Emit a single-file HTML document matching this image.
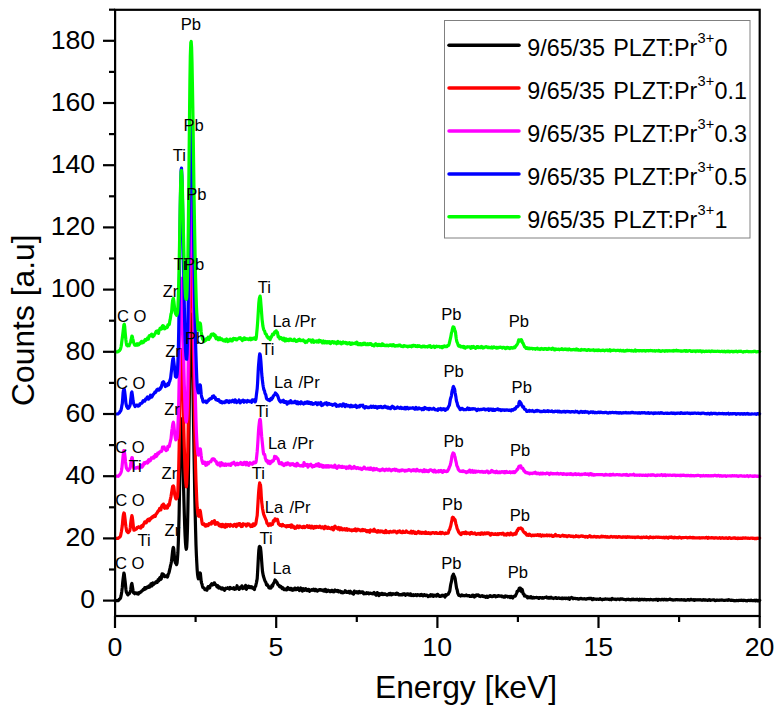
<!DOCTYPE html>
<html><head><meta charset="utf-8"><style>
html,body{margin:0;padding:0;background:#fff;}
body{width:781px;height:716px;overflow:hidden;font-family:"Liberation Sans",sans-serif;}
svg{display:block;}
text{font-family:"Liberation Sans",sans-serif;}
</style></head><body>
<svg width="781" height="716" viewBox="0 0 781 716">
<rect width="781" height="716" fill="#fff"/>
<g font-size="16.6" fill="#000">
</g>
<g fill="none" stroke-width="3.2" stroke-linejoin="round" stroke-linecap="round">
<path stroke="#000000" d="M115.0,600.6L115.4,600.6L115.8,600.6L116.2,600.6L116.6,600.6L117.0,600.6L117.4,600.6L117.8,600.6L118.2,600.6L118.6,600.4L119.0,599.6L119.4,599.3L119.8,598.9L120.2,598.6L120.6,597.8L121.0,596.2L121.4,593.9L121.8,591.4L122.3,587.4L122.7,582.5L123.1,579.0L123.5,575.9L123.9,573.1L124.3,574.3L124.7,577.9L125.1,581.1L125.5,585.0L125.9,589.2L126.3,591.9L126.7,592.8L127.1,593.4L127.5,594.4L127.9,594.8L128.3,594.3L128.7,594.0L129.1,594.0L129.5,593.3L129.9,592.4L130.3,591.7L130.7,590.0L131.1,586.8L131.5,584.2L131.9,583.4L132.3,585.8L132.7,588.2L133.1,590.8L133.5,592.8L133.9,593.0L134.3,593.3L134.7,593.7L135.1,592.9L135.5,592.8L136.0,593.0L136.4,593.0L136.8,593.1L137.2,593.8L137.6,593.1L138.0,593.1L138.4,594.0L138.8,593.3L139.2,592.8L139.6,592.3L140.0,592.5L140.4,592.1L140.8,591.8L141.2,591.9L141.6,591.1L142.0,590.8L142.4,590.5L142.8,590.4L143.2,589.5L143.6,589.3L144.0,589.5L144.4,588.7L144.8,587.7L145.2,587.7L145.6,589.0L146.0,587.9L146.4,587.5L146.8,587.9L147.2,587.9L147.6,586.9L148.0,587.5L148.4,586.4L148.8,585.9L149.2,587.3L149.7,587.1L150.1,586.9L150.5,585.5L150.9,583.8L151.3,583.8L151.7,586.0L152.1,585.6L152.5,583.8L152.9,582.9L153.3,583.6L153.7,584.3L154.1,583.5L154.5,583.2L154.9,583.3L155.3,583.2L155.7,582.1L156.1,581.7L156.5,581.8L156.9,581.9L157.3,582.3L157.7,581.2L158.1,579.7L158.5,580.4L158.9,580.7L159.3,578.8L159.7,578.0L160.1,577.4L160.5,578.4L160.9,579.3L161.3,578.8L161.7,575.7L162.1,573.8L162.5,575.1L162.9,575.0L163.4,574.3L163.8,575.5L164.2,576.3L164.6,576.7L165.0,576.5L165.4,576.1L165.8,576.4L166.2,576.0L166.6,576.2L167.0,576.1L167.4,577.1L167.8,576.2L168.2,574.1L168.6,573.7L169.0,572.5L169.4,571.0L169.8,569.1L170.2,567.4L170.6,565.4L171.0,563.9L171.4,561.8L171.8,558.6L172.2,554.8L172.6,551.3L173.0,548.4L173.4,547.4L173.8,549.2L174.2,553.8L174.6,559.0L175.0,561.4L175.4,562.8L175.8,563.3L176.2,563.9L176.6,564.6L177.1,562.8L177.5,558.1L177.9,552.7L178.3,543.3L178.7,530.5L179.1,514.8L179.5,493.2L179.9,469.4L180.3,447.0L180.7,429.5L181.1,419.9L181.5,418.8L181.9,425.0L182.3,435.5L182.7,450.3L183.1,466.8L183.5,483.9L183.9,499.4L184.3,513.6L184.7,526.1L185.1,535.9L185.5,543.2L185.9,547.6L186.3,549.3L186.7,547.1L187.1,539.9L187.5,527.6L187.9,509.3L188.3,485.1L188.7,453.4L189.1,419.4L189.5,384.4L189.9,352.3L190.3,328.2L190.8,314.9L191.2,314.1L191.6,321.3L192.0,334.3L192.4,352.0L192.8,375.8L193.2,401.9L193.6,427.4L194.0,452.5L194.4,474.4L194.8,496.6L195.2,514.5L195.6,530.5L196.0,545.1L196.4,555.1L196.8,563.0L197.2,570.1L197.6,574.8L198.0,577.3L198.4,578.8L198.8,578.2L199.2,576.1L199.6,573.6L200.0,572.9L200.4,573.5L200.8,577.3L201.2,581.4L201.6,583.2L202.0,584.1L202.4,585.8L202.8,587.3L203.2,587.3L203.6,588.0L204.0,588.1L204.5,588.6L204.9,589.7L205.3,588.9L205.7,589.2L206.1,589.5L206.5,590.0L206.9,590.2L207.3,589.2L207.7,587.5L208.1,586.7L208.5,587.1L208.9,586.7L209.3,587.4L209.7,588.0L210.1,586.3L210.5,585.3L210.9,585.2L211.3,584.3L211.7,583.8L212.1,584.7L212.5,585.0L212.9,584.1L213.3,583.8L213.7,583.8L214.1,582.9L214.5,582.9L214.9,584.5L215.3,584.6L215.7,584.6L216.1,585.1L216.5,585.7L216.9,586.8L217.3,586.3L217.7,585.7L218.2,586.8L218.6,588.0L219.0,587.4L219.4,587.0L219.8,587.8L220.2,588.2L220.6,587.7L221.0,588.8L221.4,588.4L221.8,588.7L222.2,589.1L222.6,588.0L223.0,588.4L223.4,589.2L223.8,588.7L224.2,589.3L224.6,590.3L225.0,589.6L225.4,588.6L225.8,588.2L226.2,588.4L226.6,588.5L227.0,588.3L227.4,588.4L227.8,587.8L228.2,588.1L228.6,588.2L229.0,588.3L229.4,589.2L229.8,588.8L230.2,587.5L230.6,587.9L231.0,588.4L231.4,588.3L231.9,588.5L232.3,588.4L232.7,588.6L233.1,588.6L233.5,588.9L233.9,587.7L234.3,588.6L234.7,589.4L235.1,588.7L235.5,588.4L235.9,588.3L236.3,588.7L236.7,587.2L237.1,585.7L237.5,588.0L237.9,588.1L238.3,588.1L238.7,588.3L239.1,589.4L239.5,589.0L239.9,587.8L240.3,587.4L240.7,586.9L241.1,587.9L241.5,587.2L241.9,585.9L242.3,587.8L242.7,588.6L243.1,588.0L243.5,587.6L243.9,587.1L244.3,587.6L244.7,588.1L245.1,587.0L245.6,585.4L246.0,586.7L246.4,589.3L246.8,588.5L247.2,588.0L247.6,587.4L248.0,587.1L248.4,586.1L248.8,586.3L249.2,586.8L249.6,587.4L250.0,587.7L250.4,587.3L250.8,586.7L251.2,587.2L251.6,587.7L252.0,587.0L252.4,587.5L252.8,588.1L253.2,588.6L253.6,588.6L254.0,589.1L254.4,589.6L254.8,587.4L255.2,586.6L255.6,586.3L256.0,584.5L256.4,582.8L256.8,580.9L257.2,578.5L257.6,572.1L258.0,564.6L258.4,556.9L258.8,550.5L259.3,546.7L259.7,546.4L260.1,547.0L260.5,547.6L260.9,551.1L261.3,555.9L261.7,561.6L262.1,566.8L262.5,571.4L262.9,573.6L263.3,575.8L263.7,577.1L264.1,578.2L264.5,579.7L264.9,580.6L265.3,581.5L265.7,582.0L266.1,583.1L266.5,584.8L266.9,585.2L267.3,584.6L267.7,585.6L268.1,585.9L268.5,586.6L268.9,587.7L269.3,588.0L269.7,587.5L270.1,587.1L270.5,587.1L270.9,588.0L271.3,587.5L271.7,586.1L272.1,585.1L272.5,586.3L273.0,584.7L273.4,583.7L273.8,582.8L274.2,582.4L274.6,581.2L275.0,580.0L275.4,580.5L275.8,580.9L276.2,581.5L276.6,582.4L277.0,582.4L277.4,583.4L277.8,584.6L278.2,584.8L278.6,585.2L279.0,585.3L279.4,586.3L279.8,586.9L280.2,586.1L280.6,586.2L281.0,586.5L281.4,587.3L281.8,588.2L282.2,588.6L282.6,588.4L283.0,587.8L283.4,588.5L283.8,589.5L284.2,589.2L284.6,589.5L285.0,589.1L285.4,589.7L285.8,589.8L286.2,588.9L286.7,589.1L287.1,589.7L287.5,588.1L287.9,587.5L288.3,588.9L288.7,588.1L289.1,589.0L289.5,589.4L289.9,589.5L290.3,589.6L290.7,588.3L291.1,588.5L291.5,589.4L291.9,589.7L292.3,590.2L292.7,589.4L293.1,588.9L293.5,590.1L293.9,589.8L294.3,588.9L294.7,588.2L295.1,588.2L295.5,589.4L295.9,589.7L296.3,589.2L296.7,589.5L297.1,589.4L297.5,588.3L297.9,588.0L298.3,588.9L298.7,589.4L299.1,589.5L299.5,590.6L299.9,590.1L300.4,589.7L300.8,588.0L301.2,588.5L301.6,589.3L302.0,590.2L302.4,591.1L302.8,589.3L303.2,588.6L303.6,589.6L304.0,589.2L304.4,589.4L304.8,590.3L305.2,589.1L305.6,588.6L306.0,589.3L306.4,589.5L306.8,589.6L307.2,590.6L307.6,589.8L308.0,589.4L308.4,590.2L308.8,589.5L309.2,590.3L309.6,591.3L310.0,590.6L310.4,590.4L310.8,590.1L311.2,590.4L311.6,589.6L312.0,590.1L312.4,590.0L312.8,590.3L313.2,590.0L313.6,589.2L314.1,589.7L314.5,590.5L314.9,590.7L315.3,589.4L315.7,589.4L316.1,590.1L316.5,590.2L316.9,590.9L317.3,591.1L317.7,590.8L318.1,590.0L318.5,590.1L318.9,590.4L319.3,589.7L319.7,589.5L320.1,589.7L320.5,589.6L320.9,590.3L321.3,590.3L321.7,590.0L322.1,590.1L322.5,590.1L322.9,590.7L323.3,589.9L323.7,590.7L324.1,591.0L324.5,591.2L324.9,590.2L325.3,589.4L325.7,589.5L326.1,590.2L326.5,591.6L326.9,591.5L327.3,591.3L327.8,591.1L328.2,590.2L328.6,590.4L329.0,590.6L329.4,590.7L329.8,591.5L330.2,591.7L330.6,591.5L331.0,590.7L331.4,590.5L331.8,590.3L332.2,590.4L332.6,591.7L333.0,591.6L333.4,591.3L333.8,591.9L334.2,591.5L334.6,590.4L335.0,590.0L335.4,590.3L335.8,591.0L336.2,591.1L336.6,590.7L337.0,591.2L337.4,590.9L337.8,590.5L338.2,591.4L338.6,591.8L339.0,591.4L339.4,591.0L339.8,591.0L340.2,591.2L340.6,591.5L341.0,592.5L341.5,592.3L341.9,591.8L342.3,592.4L342.7,592.8L343.1,592.8L343.5,592.5L343.9,592.2L344.3,592.3L344.7,591.5L345.1,590.8L345.5,591.3L345.9,591.1L346.3,591.7L346.7,592.5L347.1,592.5L347.5,592.4L347.9,591.9L348.3,592.3L348.7,591.4L349.1,591.9L349.5,593.0L349.9,591.7L350.3,591.2L350.7,592.1L351.1,592.1L351.5,593.0L351.9,592.7L352.3,593.1L352.7,592.7L353.1,593.7L353.5,594.1L353.9,592.2L354.3,591.1L354.7,592.2L355.2,592.1L355.6,592.3L356.0,592.5L356.4,591.9L356.8,591.7L357.2,592.8L357.6,592.4L358.0,592.6L358.4,593.1L358.8,591.7L359.2,591.5L359.6,592.6L360.0,592.0L360.4,592.4L360.8,592.6L361.2,592.0L361.6,592.4L362.0,592.4L362.4,591.8L362.8,591.8L363.2,592.5L363.6,593.9L364.0,593.9L364.4,592.9L364.8,593.3L365.2,593.4L365.6,593.7L366.0,593.6L366.4,593.6L366.8,592.7L367.2,593.5L367.6,593.5L368.0,593.2L368.4,592.9L368.9,593.8L369.3,593.6L369.7,593.4L370.1,593.1L370.5,593.1L370.9,593.5L371.3,593.5L371.7,593.6L372.1,593.3L372.5,593.6L372.9,593.9L373.3,593.6L373.7,593.0L374.1,592.5L374.5,593.5L374.9,593.4L375.3,593.3L375.7,594.8L376.1,595.2L376.5,594.7L376.9,593.7L377.3,592.6L377.7,593.0L378.1,593.2L378.5,594.2L378.9,595.6L379.3,595.4L379.7,593.8L380.1,594.0L380.5,594.5L380.9,593.9L381.3,594.4L381.7,593.5L382.1,593.3L382.6,594.4L383.0,594.6L383.4,594.0L383.8,594.4L384.2,594.1L384.6,594.4L385.0,593.9L385.4,594.0L385.8,594.5L386.2,594.6L386.6,594.5L387.0,595.1L387.4,594.7L387.8,594.3L388.2,594.2L388.6,594.5L389.0,593.7L389.4,594.3L389.8,594.6L390.2,593.5L390.6,593.3L391.0,594.3L391.4,594.8L391.8,594.6L392.2,594.7L392.6,594.3L393.0,593.6L393.4,593.9L393.8,594.2L394.2,594.2L394.6,594.2L395.0,593.9L395.4,593.9L395.8,594.4L396.3,594.0L396.7,593.2L397.1,593.9L397.5,594.1L397.9,593.5L398.3,594.3L398.7,594.9L399.1,594.5L399.5,594.9L399.9,594.8L400.3,594.5L400.7,594.7L401.1,595.0L401.5,595.0L401.9,594.8L402.3,594.2L402.7,594.8L403.1,594.7L403.5,593.8L403.9,594.3L404.3,593.8L404.7,593.8L405.1,594.7L405.5,595.3L405.9,594.6L406.3,594.1L406.7,594.1L407.1,594.3L407.5,593.9L407.9,594.0L408.3,594.8L408.7,594.2L409.1,594.5L409.5,595.1L410.0,594.7L410.4,593.8L410.8,594.3L411.2,595.5L411.6,595.1L412.0,594.9L412.4,595.0L412.8,595.3L413.2,595.5L413.6,594.8L414.0,595.2L414.4,595.3L414.8,595.4L415.2,595.2L415.6,594.6L416.0,594.7L416.4,595.3L416.8,595.6L417.2,595.2L417.6,594.6L418.0,594.7L418.4,594.9L418.8,595.2L419.2,595.2L419.6,595.3L420.0,595.6L420.4,594.7L420.8,595.3L421.2,595.3L421.6,594.5L422.0,594.8L422.4,595.2L422.8,595.6L423.2,595.9L423.7,595.1L424.1,594.7L424.5,595.2L424.9,594.9L425.3,595.6L425.7,595.6L426.1,595.1L426.5,595.1L426.9,595.0L427.3,595.6L427.7,596.1L428.1,596.5L428.5,596.3L428.9,596.2L429.3,596.1L429.7,595.5L430.1,595.9L430.5,596.0L430.9,594.7L431.3,595.6L431.7,595.9L432.1,594.9L432.5,594.9L432.9,596.0L433.3,596.4L433.7,595.9L434.1,595.1L434.5,595.6L434.9,595.9L435.3,595.4L435.7,595.2L436.1,596.0L436.5,596.1L436.9,595.9L437.4,594.5L437.8,594.3L438.2,594.9L438.6,595.4L439.0,595.6L439.4,596.4L439.8,596.0L440.2,596.4L440.6,596.5L441.0,596.2L441.4,595.8L441.8,595.3L442.2,595.2L442.6,595.6L443.0,595.9L443.4,595.5L443.8,595.4L444.2,595.3L444.6,596.3L445.0,597.0L445.4,595.9L445.8,594.6L446.2,595.0L446.6,595.3L447.0,594.8L447.4,594.6L447.8,594.4L448.2,594.3L448.6,593.4L449.0,592.5L449.4,591.9L449.8,590.7L450.2,588.1L450.6,585.3L451.0,583.3L451.5,581.4L451.9,578.9L452.3,576.2L452.7,575.9L453.1,574.8L453.5,574.1L453.9,575.6L454.3,576.6L454.7,577.1L455.1,578.5L455.5,581.3L455.9,583.8L456.3,586.4L456.7,588.7L457.1,589.5L457.5,591.6L457.9,593.6L458.3,594.1L458.7,595.2L459.1,595.5L459.5,595.4L459.9,595.6L460.3,595.4L460.7,596.0L461.1,595.7L461.5,595.2L461.9,594.9L462.3,595.1L462.7,595.5L463.1,595.7L463.5,595.6L463.9,595.4L464.3,595.8L464.7,595.7L465.2,595.7L465.6,595.7L466.0,595.6L466.4,595.0L466.8,595.7L467.2,595.8L467.6,595.6L468.0,595.5L468.4,595.5L468.8,595.5L469.2,595.6L469.6,596.4L470.0,596.2L470.4,596.4L470.8,596.1L471.2,596.5L471.6,596.5L472.0,595.9L472.4,595.2L472.8,595.4L473.2,595.5L473.6,595.4L474.0,596.4L474.4,597.0L474.8,596.5L475.2,596.0L475.6,595.2L476.0,595.1L476.4,595.9L476.8,594.9L477.2,594.9L477.6,595.4L478.0,595.4L478.4,594.9L478.9,595.7L479.3,596.2L479.7,596.2L480.1,596.5L480.5,596.0L480.9,596.0L481.3,595.9L481.7,596.0L482.1,596.3L482.5,595.8L482.9,596.2L483.3,596.1L483.7,596.6L484.1,596.3L484.5,596.4L484.9,596.3L485.3,596.7L485.7,597.3L486.1,596.9L486.5,596.2L486.9,596.1L487.3,597.0L487.7,597.4L488.1,596.9L488.5,596.5L488.9,596.6L489.3,596.5L489.7,595.8L490.1,595.6L490.5,595.9L490.9,596.5L491.3,596.4L491.7,596.5L492.1,596.7L492.6,596.1L493.0,596.2L493.4,596.3L493.8,595.7L494.2,595.7L494.6,595.7L495.0,595.6L495.4,596.0L495.8,596.8L496.2,596.5L496.6,596.1L497.0,596.5L497.4,596.4L497.8,596.0L498.2,595.6L498.6,595.5L499.0,595.9L499.4,596.2L499.8,596.0L500.2,596.1L500.6,596.2L501.0,595.8L501.4,596.1L501.8,596.5L502.2,596.1L502.6,596.3L503.0,596.5L503.4,597.0L503.8,596.8L504.2,597.0L504.6,597.2L505.0,597.1L505.4,595.9L505.8,596.3L506.3,596.3L506.7,596.1L507.1,596.4L507.5,596.5L507.9,597.0L508.3,596.7L508.7,596.6L509.1,596.4L509.5,596.6L509.9,597.3L510.3,597.6L510.7,597.1L511.1,596.4L511.5,596.3L511.9,596.7L512.3,597.7L512.7,598.0L513.1,597.2L513.5,596.7L513.9,596.6L514.3,596.1L514.7,596.1L515.1,596.2L515.5,595.7L515.9,594.7L516.3,594.0L516.7,593.0L517.1,591.4L517.5,591.5L517.9,591.2L518.3,590.9L518.7,589.9L519.1,588.6L519.5,588.1L520.0,588.2L520.4,588.1L520.8,588.8L521.2,590.9L521.6,591.6L522.0,589.3L522.4,590.1L522.8,592.1L523.2,593.9L523.6,594.2L524.0,594.2L524.4,596.0L524.8,595.9L525.2,595.6L525.6,596.0L526.0,596.3L526.4,596.5L526.8,596.3L527.2,597.4L527.6,597.8L528.0,597.2L528.4,596.8L528.8,597.1L529.2,597.1L529.6,597.7L530.0,597.8L530.4,597.0L530.8,596.6L531.2,596.9L531.6,597.6L532.0,598.1L532.4,598.1L532.8,597.7L533.2,597.3L533.7,597.5L534.1,598.0L534.5,597.7L534.9,597.6L535.3,597.6L535.7,597.6L536.1,597.6L536.5,597.4L536.9,597.5L537.3,597.6L537.7,597.8L538.1,597.6L538.5,597.9L538.9,598.4L539.3,597.8L539.7,597.6L540.1,597.5L540.5,597.7L540.9,597.8L541.3,597.7L541.7,597.8L542.1,598.1L542.5,598.2L542.9,597.6L543.3,598.1L543.7,598.0L544.1,597.6L544.5,597.6L544.9,597.5L545.3,597.4L545.7,597.3L546.1,597.3L546.5,597.0L546.9,597.9L547.4,598.0L547.8,598.0L548.2,598.1L548.6,597.7L549.0,597.5L549.4,598.1L549.8,598.2L550.2,597.7L550.6,597.5L551.0,597.2L551.4,597.4L551.8,597.8L552.2,598.1L552.6,598.0L553.0,598.2L553.4,598.5L553.8,598.2L554.2,598.1L554.6,598.2L555.0,598.0L555.4,597.5L555.8,597.6L556.2,597.8L556.6,598.3L557.0,598.5L557.4,598.3L557.8,598.1L558.2,598.2L558.6,598.1L559.0,597.9L559.4,598.1L559.8,598.5L560.2,598.5L560.6,598.4L561.1,598.3L561.5,598.6L561.9,598.3L562.3,598.0L562.7,598.3L563.1,598.6L563.5,598.5L563.9,598.2L564.3,598.0L564.7,598.0L565.1,598.4L565.5,598.6L565.9,598.0L566.3,598.1L566.7,598.2L567.1,598.3L567.5,598.7L567.9,598.5L568.3,598.2L568.7,598.0L569.1,598.6L569.5,599.3L569.9,598.7L570.3,598.2L570.7,597.9L571.1,597.9L571.5,597.5L571.9,597.7L572.3,597.8L572.7,598.2L573.1,598.7L573.5,598.3L573.9,598.3L574.3,598.5L574.8,598.3L575.2,598.4L575.6,598.6L576.0,598.6L576.4,598.6L576.8,598.5L577.2,598.6L577.6,598.6L578.0,599.1L578.4,599.0L578.8,599.1L579.2,598.8L579.6,598.5L580.0,598.6L580.4,598.6L580.8,598.5L581.2,598.3L581.6,598.7L582.0,598.7L582.4,599.0L582.8,598.9L583.2,598.8L583.6,598.9L584.0,598.7L584.4,598.6L584.8,599.0L585.2,598.9L585.6,599.0L586.0,599.3L586.4,599.0L586.8,598.9L587.2,598.6L587.6,598.7L588.0,598.5L588.5,598.6L588.9,598.3L589.3,598.5L589.7,598.6L590.1,598.5L590.5,598.4L590.9,598.3L591.3,598.3L591.7,598.9L592.1,599.5L592.5,599.7L592.9,599.2L593.3,598.7L593.7,598.7L594.1,598.9L594.5,599.1L594.9,599.1L595.3,599.0L595.7,599.0L596.1,599.3L596.5,599.1L596.9,599.3L597.3,599.2L597.7,599.2L598.1,599.2L598.5,599.4L598.9,599.4L599.3,599.3L599.7,599.1L600.1,598.6L600.5,599.0L600.9,599.3L601.3,599.3L601.7,599.6L602.2,599.8L602.6,599.3L603.0,599.2L603.4,599.4L603.8,599.3L604.2,599.4L604.6,599.2L605.0,599.0L605.4,598.9L605.8,599.0L606.2,599.2L606.6,599.0L607.0,599.2L607.4,599.0L607.8,599.0L608.2,599.3L608.6,599.4L609.0,599.2L609.4,599.5L609.8,599.6L610.2,599.4L610.6,599.1L611.0,599.3L611.4,599.7L611.8,599.1L612.2,598.5L612.6,598.7L613.0,599.2L613.4,599.2L613.8,599.0L614.2,599.0L614.6,599.3L615.0,599.4L615.4,599.1L615.9,599.2L616.3,599.6L616.7,599.4L617.1,599.2L617.5,599.2L617.9,599.1L618.3,599.0L618.7,599.1L619.1,599.4L619.5,599.6L619.9,599.2L620.3,598.8L620.7,598.8L621.1,599.2L621.5,599.2L621.9,598.9L622.3,598.9L622.7,599.1L623.1,599.2L623.5,599.4L623.9,599.4L624.3,599.5L624.7,599.5L625.1,599.5L625.5,599.7L625.9,599.9L626.3,599.7L626.7,599.4L627.1,599.4L627.5,599.5L627.9,599.3L628.3,599.2L628.7,599.3L629.1,599.6L629.6,599.5L630.0,599.6L630.4,599.8L630.8,599.9L631.2,599.7L631.6,599.5L632.0,599.1L632.4,599.4L632.8,599.6L633.2,599.5L633.6,599.2L634.0,599.6L634.4,599.7L634.8,599.7L635.2,599.6L635.6,599.5L636.0,599.4L636.4,599.7L636.8,599.5L637.2,599.2L637.6,599.5L638.0,599.7L638.4,599.9L638.8,600.1L639.2,599.7L639.6,599.3L640.0,599.7L640.4,599.9L640.8,599.6L641.2,599.4L641.6,599.3L642.0,599.3L642.4,599.5L642.8,599.6L643.3,599.8L643.7,599.4L644.1,599.4L644.5,599.3L644.9,599.3L645.3,599.6L645.7,599.7L646.1,599.9L646.5,600.0L646.9,599.7L647.3,599.6L647.7,599.7L648.1,599.5L648.5,599.5L648.9,599.5L649.3,599.8L649.7,599.9L650.1,599.5L650.5,599.4L650.9,599.6L651.3,599.7L651.7,599.7L652.1,599.7L652.5,599.8L652.9,600.0L653.3,599.7L653.7,599.9L654.1,599.8L654.5,599.7L654.9,599.7L655.3,599.8L655.7,599.4L656.1,599.4L656.5,599.3L657.0,599.4L657.4,599.9L657.8,600.3L658.2,599.7L658.6,599.3L659.0,599.3L659.4,599.7L659.8,599.7L660.2,599.7L660.6,600.0L661.0,599.9L661.4,599.7L661.8,599.4L662.2,599.6L662.6,599.4L663.0,599.6L663.4,599.8L663.8,599.4L664.2,599.6L664.6,599.5L665.0,599.3L665.4,599.7L665.8,599.9L666.2,599.5L666.6,599.7L667.0,600.0L667.4,600.0L667.8,599.7L668.2,599.5L668.6,599.6L669.0,599.5L669.4,599.2L669.8,599.2L670.2,599.2L670.7,599.5L671.1,599.8L671.5,599.5L671.9,599.6L672.3,599.8L672.7,600.0L673.1,600.1L673.5,600.0L673.9,599.9L674.3,600.0L674.7,600.0L675.1,599.9L675.5,599.7L675.9,599.8L676.3,599.7L676.7,599.5L677.1,599.7L677.5,599.7L677.9,599.9L678.3,599.8L678.7,599.7L679.1,599.8L679.5,599.9L679.9,600.0L680.3,599.9L680.7,599.8L681.1,599.6L681.5,599.6L681.9,599.9L682.3,599.8L682.7,599.8L683.1,599.8L683.5,600.0L683.9,600.1L684.4,599.7L684.8,599.8L685.2,600.2L685.6,600.3L686.0,600.1L686.4,600.1L686.8,600.0L687.2,599.7L687.6,599.6L688.0,599.8L688.4,599.6L688.8,599.6L689.2,600.0L689.6,600.2L690.0,599.8L690.4,599.6L690.8,599.3L691.2,599.4L691.6,599.6L692.0,599.6L692.4,600.0L692.8,600.0L693.2,599.8L693.6,599.6L694.0,599.9L694.4,600.4L694.8,599.9L695.2,600.0L695.6,599.9L696.0,600.0L696.4,599.9L696.8,599.8L697.2,599.9L697.6,600.0L698.1,599.7L698.5,599.8L698.9,599.9L699.3,599.9L699.7,599.9L700.1,599.6L700.5,599.8L700.9,599.9L701.3,600.0L701.7,600.2L702.1,600.3L702.5,600.0L702.9,599.8L703.3,599.7L703.7,599.9L704.1,600.2L704.5,599.9L704.9,599.8L705.3,599.8L705.7,600.0L706.1,600.2L706.5,600.0L706.9,600.1L707.3,600.1L707.7,600.3L708.1,600.1L708.5,600.1L708.9,599.8L709.3,599.6L709.7,599.8L710.1,600.3L710.5,600.4L710.9,600.3L711.3,600.0L711.8,600.0L712.2,600.0L712.6,600.0L713.0,599.9L713.4,599.9L713.8,599.8L714.2,600.0L714.6,600.2L715.0,600.6L715.4,600.6L715.8,600.4L716.2,600.4L716.6,600.1L717.0,600.0L717.4,600.2L717.8,600.3L718.2,600.3L718.6,600.2L719.0,600.3L719.4,600.1L719.8,600.1L720.2,600.1L720.6,600.0L721.0,600.1L721.4,600.1L721.8,599.9L722.2,600.1L722.6,600.1L723.0,600.2L723.4,600.3L723.8,600.4L724.2,600.4L724.6,600.3L725.0,600.4L725.5,600.3L725.9,600.1L726.3,600.1L726.7,600.0L727.1,600.1L727.5,600.1L727.9,600.3L728.3,600.1L728.7,599.7L729.1,599.9L729.5,600.0L729.9,600.1L730.3,600.2L730.7,600.5L731.1,600.5L731.5,600.2L731.9,600.2L732.3,600.4L732.7,600.4L733.1,600.4L733.5,600.5L733.9,600.7L734.3,600.7L734.7,600.6L735.1,600.8L735.5,600.7L735.9,600.6L736.3,600.6L736.7,600.4L737.1,600.5L737.5,600.5L737.9,600.6L738.3,600.6L738.7,600.3L739.2,600.3L739.6,600.5L740.0,600.4L740.4,600.4L740.8,600.3L741.2,600.1L741.6,600.4L742.0,600.3L742.4,600.3L742.8,600.5L743.2,600.6L743.6,600.4L744.0,600.3L744.4,600.4L744.8,600.4L745.2,600.5L745.6,600.6L746.0,600.6L746.4,600.8L746.8,600.7L747.2,600.8L747.6,600.6L748.0,600.4L748.4,600.5L748.8,600.5L749.2,600.4L749.6,600.5L750.0,600.6L750.4,600.5L750.8,600.2L751.2,600.2L751.6,600.4L752.0,600.6L752.4,600.5L752.9,600.7L753.3,600.6L753.7,600.6L754.1,600.3L754.5,600.6L754.9,600.3L755.3,600.4L755.7,600.8L756.1,600.6L756.5,600.2L756.9,600.3L757.3,600.8L757.7,600.8L758.1,600.8L758.5,600.8L758.9,600.6L759.3,600.2L759.7,600.4"/>
<path stroke="#ff0000" d="M115.0,538.4L115.4,538.4L115.8,538.4L116.2,538.4L116.6,538.4L117.0,538.4L117.4,538.4L117.8,538.4L118.2,538.4L118.6,537.8L119.0,537.5L119.4,537.2L119.8,537.2L120.2,536.5L120.6,535.6L121.0,533.6L121.4,531.5L121.8,528.9L122.3,525.6L122.7,521.0L123.1,516.8L123.5,514.3L123.9,513.0L124.3,513.3L124.7,516.0L125.1,519.5L125.5,523.3L125.9,526.5L126.3,528.7L126.7,531.0L127.1,531.4L127.5,532.1L127.9,532.6L128.3,532.7L128.7,532.1L129.1,531.6L129.5,531.0L129.9,530.1L130.3,527.5L130.7,523.1L131.1,520.0L131.5,517.5L131.9,515.6L132.3,517.2L132.7,520.2L133.1,523.9L133.5,527.7L133.9,530.2L134.3,530.0L134.7,529.6L135.1,529.7L135.5,529.2L136.0,528.8L136.4,529.1L136.8,528.1L137.2,527.4L137.6,527.5L138.0,527.5L138.4,527.2L138.8,526.8L139.2,527.6L139.6,527.6L140.0,527.2L140.4,527.9L140.8,528.1L141.2,527.2L141.6,525.8L142.0,525.5L142.4,526.6L142.8,526.6L143.2,525.2L143.6,524.3L144.0,523.7L144.4,522.6L144.8,521.8L145.2,522.0L145.6,522.0L146.0,522.9L146.4,522.7L146.8,521.2L147.2,520.2L147.6,519.7L148.0,519.5L148.4,519.1L148.8,519.4L149.2,520.8L149.7,520.1L150.1,518.5L150.5,518.4L150.9,519.0L151.3,517.6L151.7,517.8L152.1,517.6L152.5,516.7L152.9,516.5L153.3,517.1L153.7,515.7L154.1,515.6L154.5,515.9L154.9,515.8L155.3,516.4L155.7,515.1L156.1,513.8L156.5,513.8L156.9,513.3L157.3,512.6L157.7,511.7L158.1,510.8L158.5,511.0L158.9,510.8L159.3,509.5L159.7,508.4L160.1,509.4L160.5,509.6L160.9,509.8L161.3,507.6L161.7,506.3L162.1,505.2L162.5,505.3L162.9,505.3L163.4,504.1L163.8,504.8L164.2,507.1L164.6,508.3L165.0,507.7L165.4,507.2L165.8,506.2L166.2,507.7L166.6,508.0L167.0,507.6L167.4,508.1L167.8,506.8L168.2,504.6L168.6,505.0L169.0,505.4L169.4,504.7L169.8,502.1L170.2,500.0L170.6,498.4L171.0,496.6L171.4,494.0L171.8,491.5L172.2,489.1L172.6,486.4L173.0,486.2L173.4,485.9L173.8,486.8L174.2,489.9L174.6,493.9L175.0,495.9L175.4,497.2L175.8,498.6L176.2,498.9L176.6,498.5L177.1,497.8L177.5,496.1L177.9,490.0L178.3,480.2L178.7,467.8L179.1,449.5L179.5,427.5L179.9,403.7L180.3,380.6L180.7,361.6L181.1,350.8L181.5,349.6L181.9,356.1L182.3,366.8L182.7,381.3L183.1,398.2L183.5,416.0L183.9,432.7L184.3,447.4L184.7,460.6L185.1,471.7L185.5,478.8L185.9,483.8L186.3,486.9L186.7,483.6L187.1,474.5L187.5,463.9L187.9,446.3L188.3,419.2L188.7,386.0L189.1,351.1L189.5,315.2L189.9,283.1L190.3,258.3L190.8,244.0L191.2,242.9L191.6,250.2L192.0,263.6L192.4,283.2L192.8,307.6L193.2,333.3L193.6,359.8L194.0,385.7L194.4,408.6L194.8,430.8L195.2,450.9L195.6,468.1L196.0,481.2L196.4,490.9L196.8,500.9L197.2,507.5L197.6,512.2L198.0,514.6L198.4,515.9L198.8,516.2L199.2,514.2L199.6,511.5L200.0,510.3L200.4,511.5L200.8,514.5L201.2,517.2L201.6,519.6L202.0,522.3L202.4,524.2L202.8,524.3L203.2,524.5L203.6,524.2L204.0,523.8L204.5,525.0L204.9,525.6L205.3,526.2L205.7,526.1L206.1,525.8L206.5,524.7L206.9,525.4L207.3,525.6L207.7,524.6L208.1,525.6L208.5,524.5L208.9,523.7L209.3,523.8L209.7,524.1L210.1,523.8L210.5,523.2L210.9,522.8L211.3,524.0L211.7,522.8L212.1,521.7L212.5,522.3L212.9,522.9L213.3,522.2L213.7,521.9L214.1,520.9L214.5,520.7L214.9,522.5L215.3,524.3L215.7,524.1L216.1,524.2L216.5,523.3L216.9,522.8L217.3,523.4L217.7,522.8L218.2,523.2L218.6,524.4L219.0,525.6L219.4,525.7L219.8,526.0L220.2,524.9L220.6,524.8L221.0,524.4L221.4,525.4L221.8,526.7L222.2,525.4L222.6,524.4L223.0,524.5L223.4,526.2L223.8,526.6L224.2,526.2L224.6,526.9L225.0,527.2L225.4,526.2L225.8,524.4L226.2,525.8L226.6,526.7L227.0,526.2L227.4,525.5L227.8,524.5L228.2,524.5L228.6,524.8L229.0,525.3L229.4,525.6L229.8,526.3L230.2,526.2L230.6,524.5L231.0,525.0L231.4,524.9L231.9,525.4L232.3,525.5L232.7,525.8L233.1,526.3L233.5,525.6L233.9,524.8L234.3,524.4L234.7,524.4L235.1,524.3L235.5,524.7L235.9,525.5L236.3,526.7L236.7,525.6L237.1,524.1L237.5,524.4L237.9,524.5L238.3,525.2L238.7,525.1L239.1,523.6L239.5,523.9L239.9,523.7L240.3,524.3L240.7,525.5L241.1,526.5L241.5,525.7L241.9,526.5L242.3,526.5L242.7,524.3L243.1,523.8L243.5,524.1L243.9,524.6L244.3,524.6L244.7,524.4L245.1,524.5L245.6,524.4L246.0,524.7L246.4,526.0L246.8,524.7L247.2,524.6L247.6,523.9L248.0,523.8L248.4,524.8L248.8,524.2L249.2,524.2L249.6,525.3L250.0,525.4L250.4,525.5L250.8,526.6L251.2,525.8L251.6,525.1L252.0,525.7L252.4,526.4L252.8,525.4L253.2,523.8L253.6,523.8L254.0,525.0L254.4,525.5L254.8,524.9L255.2,524.5L255.6,524.3L256.0,522.8L256.4,520.1L256.8,517.7L257.2,515.5L257.6,508.8L258.0,502.3L258.4,495.7L258.8,490.2L259.3,485.2L259.7,482.8L260.1,484.8L260.5,485.0L260.9,489.4L261.3,496.5L261.7,502.0L262.1,504.9L262.5,508.5L262.9,510.4L263.3,512.7L263.7,514.5L264.1,515.3L264.5,516.5L264.9,517.3L265.3,518.2L265.7,519.3L266.1,519.9L266.5,521.2L266.9,523.3L267.3,523.5L267.7,523.7L268.1,524.6L268.5,525.6L268.9,525.2L269.3,524.5L269.7,524.1L270.1,523.7L270.5,524.8L270.9,525.1L271.3,524.8L271.7,524.4L272.1,524.4L272.5,524.4L273.0,522.3L273.4,520.6L273.8,520.4L274.2,521.3L274.6,520.3L275.0,518.8L275.4,519.6L275.8,519.9L276.2,520.1L276.6,519.7L277.0,519.4L277.4,519.3L277.8,520.9L278.2,522.4L278.6,524.0L279.0,524.3L279.4,524.7L279.8,525.1L280.2,525.4L280.6,524.6L281.0,525.5L281.4,525.6L281.8,526.1L282.2,525.2L282.6,524.5L283.0,525.7L283.4,525.6L283.8,525.6L284.2,525.5L284.6,525.6L285.0,526.2L285.4,526.2L285.8,526.5L286.2,526.9L286.7,526.7L287.1,525.7L287.5,526.1L287.9,525.6L288.3,525.7L288.7,526.4L289.1,525.8L289.5,526.3L289.9,525.5L290.3,525.2L290.7,526.5L291.1,527.2L291.5,526.5L291.9,525.0L292.3,526.3L292.7,527.0L293.1,526.1L293.5,526.3L293.9,526.7L294.3,527.6L294.7,528.3L295.1,527.7L295.5,527.7L295.9,528.1L296.3,527.8L296.7,527.3L297.1,526.1L297.5,525.8L297.9,526.2L298.3,527.2L298.7,527.6L299.1,526.7L299.5,526.1L299.9,526.0L300.4,526.6L300.8,526.8L301.2,526.8L301.6,527.5L302.0,527.4L302.4,526.9L302.8,527.6L303.2,527.0L303.6,526.3L304.0,526.5L304.4,526.8L304.8,527.6L305.2,527.3L305.6,527.0L306.0,526.5L306.4,526.6L306.8,526.5L307.2,525.6L307.6,526.3L308.0,527.2L308.4,527.5L308.8,527.3L309.2,527.1L309.6,526.0L310.0,526.4L310.4,527.3L310.8,527.9L311.2,528.0L311.6,527.3L312.0,526.2L312.4,526.4L312.8,527.0L313.2,527.5L313.6,528.2L314.1,527.2L314.5,526.9L314.9,526.5L315.3,527.2L315.7,527.6L316.1,527.4L316.5,527.4L316.9,526.5L317.3,526.8L317.7,527.0L318.1,527.2L318.5,527.4L318.9,527.1L319.3,526.8L319.7,526.2L320.1,526.9L320.5,527.3L320.9,527.8L321.3,527.9L321.7,527.5L322.1,526.8L322.5,527.0L322.9,527.0L323.3,527.7L323.7,528.3L324.1,528.8L324.5,527.1L324.9,526.3L325.3,527.1L325.7,526.7L326.1,527.1L326.5,527.9L326.9,527.7L327.3,528.3L327.8,528.0L328.2,527.2L328.6,527.8L329.0,528.4L329.4,527.6L329.8,528.4L330.2,528.4L330.6,528.3L331.0,528.4L331.4,529.0L331.8,528.9L332.2,527.5L332.6,528.6L333.0,529.5L333.4,529.9L333.8,528.5L334.2,527.2L334.6,526.6L335.0,526.1L335.4,526.8L335.8,527.8L336.2,528.0L336.6,527.6L337.0,528.2L337.4,528.6L337.8,529.1L338.2,528.3L338.6,527.4L339.0,528.2L339.4,528.9L339.8,529.8L340.2,528.3L340.6,528.0L341.0,527.8L341.5,528.5L341.9,529.6L342.3,529.8L342.7,528.9L343.1,529.0L343.5,529.6L343.9,529.4L344.3,529.3L344.7,528.8L345.1,529.4L345.5,530.0L345.9,529.6L346.3,529.3L346.7,528.6L347.1,529.5L347.5,530.2L347.9,529.7L348.3,529.5L348.7,529.3L349.1,529.5L349.5,530.0L349.9,529.8L350.3,529.8L350.7,530.4L351.1,530.1L351.5,529.9L351.9,530.8L352.3,530.7L352.7,530.2L353.1,529.8L353.5,529.8L353.9,530.4L354.3,529.8L354.7,529.2L355.2,529.0L355.6,530.1L356.0,530.9L356.4,530.9L356.8,529.7L357.2,529.3L357.6,530.1L358.0,529.8L358.4,529.4L358.8,529.5L359.2,530.1L359.6,529.9L360.0,530.3L360.4,530.7L360.8,530.2L361.2,530.2L361.6,530.6L362.0,529.8L362.4,529.4L362.8,530.7L363.2,530.1L363.6,529.7L364.0,530.1L364.4,530.3L364.8,530.3L365.2,530.0L365.6,530.8L366.0,531.1L366.4,531.6L366.8,530.7L367.2,530.7L367.6,531.7L368.0,531.4L368.4,530.7L368.9,531.2L369.3,532.0L369.7,532.3L370.1,530.8L370.5,529.9L370.9,530.7L371.3,530.7L371.7,530.7L372.1,531.0L372.5,531.0L372.9,531.1L373.3,531.1L373.7,529.5L374.1,529.2L374.5,530.2L374.9,530.3L375.3,531.4L375.7,531.3L376.1,530.9L376.5,531.9L376.9,532.1L377.3,531.7L377.7,532.0L378.1,530.7L378.5,530.7L378.9,531.1L379.3,531.2L379.7,532.0L380.1,532.0L380.5,531.1L380.9,530.9L381.3,531.3L381.7,531.6L382.1,531.6L382.6,531.2L383.0,532.2L383.4,532.4L383.8,532.3L384.2,532.7L384.6,532.7L385.0,532.2L385.4,531.0L385.8,530.5L386.2,531.4L386.6,532.5L387.0,532.3L387.4,531.9L387.8,531.9L388.2,531.8L388.6,531.8L389.0,532.7L389.4,532.3L389.8,531.6L390.2,531.3L390.6,531.5L391.0,531.7L391.4,532.0L391.8,532.1L392.2,531.9L392.6,532.0L393.0,532.0L393.4,531.1L393.8,531.1L394.2,531.7L394.6,531.4L395.0,531.1L395.4,531.5L395.8,531.7L396.3,531.9L396.7,532.9L397.1,532.8L397.5,531.8L397.9,531.5L398.3,531.3L398.7,531.8L399.1,531.3L399.5,530.9L399.9,531.0L400.3,532.1L400.7,532.3L401.1,531.9L401.5,532.0L401.9,532.6L402.3,532.7L402.7,532.4L403.1,531.2L403.5,531.7L403.9,532.2L404.3,532.4L404.7,532.1L405.1,531.8L405.5,532.2L405.9,531.8L406.3,530.9L406.7,531.3L407.1,532.0L407.5,532.3L407.9,532.4L408.3,532.5L408.7,532.3L409.1,532.6L409.5,532.8L410.0,532.7L410.4,532.8L410.8,532.0L411.2,531.2L411.6,532.5L412.0,533.1L412.4,532.2L412.8,531.9L413.2,531.4L413.6,531.7L414.0,532.0L414.4,532.9L414.8,533.3L415.2,532.7L415.6,532.3L416.0,533.0L416.4,533.5L416.8,533.1L417.2,532.9L417.6,532.8L418.0,532.2L418.4,531.4L418.8,532.3L419.2,533.0L419.6,533.1L420.0,532.7L420.4,533.0L420.8,532.2L421.2,532.7L421.6,533.3L422.0,532.9L422.4,532.5L422.8,532.4L423.2,533.2L423.7,532.9L424.1,532.6L424.5,532.5L424.9,533.3L425.3,533.0L425.7,531.9L426.1,532.5L426.5,533.4L426.9,533.0L427.3,533.3L427.7,533.5L428.1,533.4L428.5,532.7L428.9,533.0L429.3,532.9L429.7,533.1L430.1,533.7L430.5,533.4L430.9,533.0L431.3,533.5L431.7,533.1L432.1,532.9L432.5,532.6L432.9,532.5L433.3,532.5L433.7,532.9L434.1,533.0L434.5,533.4L434.9,533.3L435.3,532.9L435.7,533.1L436.1,532.6L436.5,532.6L436.9,533.3L437.4,533.1L437.8,533.4L438.2,533.3L438.6,533.4L439.0,533.1L439.4,533.2L439.8,533.4L440.2,532.3L440.6,532.7L441.0,533.7L441.4,533.4L441.8,533.1L442.2,532.4L442.6,532.9L443.0,533.1L443.4,533.2L443.8,533.1L444.2,533.5L444.6,533.8L445.0,533.6L445.4,533.4L445.8,532.9L446.2,533.1L446.6,533.3L447.0,533.3L447.4,533.2L447.8,532.8L448.2,533.0L448.6,531.7L449.0,530.1L449.4,529.8L449.8,529.0L450.2,527.4L450.6,526.4L451.0,524.5L451.5,522.0L451.9,520.4L452.3,517.7L452.7,517.2L453.1,517.5L453.5,517.7L453.9,518.3L454.3,519.9L454.7,519.4L455.1,519.7L455.5,521.7L455.9,523.9L456.3,525.1L456.7,526.6L457.1,528.4L457.5,529.4L457.9,530.0L458.3,531.1L458.7,532.2L459.1,532.5L459.5,533.0L459.9,533.7L460.3,533.3L460.7,533.6L461.1,534.5L461.5,534.1L461.9,532.8L462.3,532.8L462.7,532.8L463.1,533.1L463.5,532.6L463.9,533.0L464.3,533.5L464.7,533.1L465.2,532.3L465.6,532.0L466.0,532.9L466.4,533.6L466.8,533.7L467.2,533.1L467.6,532.8L468.0,533.2L468.4,533.3L468.8,533.0L469.2,533.0L469.6,533.4L470.0,534.1L470.4,533.5L470.8,532.7L471.2,532.8L471.6,532.4L472.0,533.0L472.4,533.5L472.8,533.3L473.2,533.3L473.6,533.7L474.0,533.6L474.4,533.4L474.8,533.0L475.2,533.5L475.6,533.8L476.0,534.4L476.4,534.4L476.8,533.9L477.2,534.0L477.6,533.8L478.0,533.4L478.4,533.5L478.9,534.1L479.3,533.8L479.7,533.4L480.1,534.0L480.5,534.4L480.9,533.9L481.3,533.0L481.7,533.2L482.1,533.0L482.5,533.4L482.9,533.4L483.3,534.2L483.7,534.0L484.1,533.4L484.5,532.9L484.9,533.1L485.3,533.2L485.7,533.8L486.1,533.8L486.5,533.1L486.9,532.8L487.3,532.9L487.7,533.1L488.1,533.5L488.5,532.9L488.9,533.2L489.3,533.1L489.7,533.5L490.1,534.7L490.5,535.1L490.9,534.8L491.3,533.9L491.7,533.4L492.1,533.7L492.6,533.7L493.0,534.3L493.4,534.4L493.8,534.3L494.2,534.1L494.6,534.4L495.0,534.0L495.4,533.7L495.8,534.1L496.2,534.4L496.6,534.4L497.0,534.6L497.4,534.4L497.8,533.7L498.2,533.9L498.6,534.5L499.0,534.2L499.4,533.7L499.8,533.5L500.2,533.5L500.6,533.5L501.0,533.9L501.4,534.1L501.8,534.0L502.2,533.5L502.6,533.3L503.0,533.1L503.4,533.5L503.8,534.4L504.2,535.0L504.6,535.0L505.0,534.6L505.4,534.2L505.8,534.9L506.3,535.1L506.7,534.4L507.1,533.7L507.5,533.5L507.9,533.4L508.3,534.0L508.7,534.4L509.1,534.6L509.5,534.9L509.9,534.5L510.3,533.5L510.7,533.0L511.1,533.4L511.5,534.0L511.9,534.3L512.3,534.4L512.7,534.9L513.1,534.1L513.5,533.8L513.9,534.0L514.3,534.2L514.7,534.3L515.1,533.3L515.5,533.1L515.9,534.1L516.3,533.0L516.7,531.5L517.1,530.5L517.5,530.8L517.9,529.9L518.3,528.5L518.7,528.4L519.1,528.6L519.5,528.5L520.0,528.3L520.4,528.3L520.8,527.9L521.2,528.7L521.6,528.6L522.0,528.6L522.4,529.2L522.8,530.4L523.2,531.3L523.6,531.8L524.0,532.3L524.4,532.5L524.8,533.1L525.2,532.7L525.6,532.8L526.0,534.2L526.4,534.6L526.8,535.0L527.2,534.6L527.6,534.6L528.0,535.1L528.4,535.4L528.8,534.9L529.2,534.1L529.6,534.2L530.0,534.8L530.4,535.3L530.8,535.3L531.2,535.6L531.6,535.8L532.0,535.6L532.4,535.0L532.8,535.0L533.2,535.2L533.7,535.7L534.1,535.7L534.5,535.1L534.9,535.1L535.3,535.0L535.7,535.3L536.1,535.0L536.5,535.1L536.9,535.4L537.3,535.3L537.7,534.6L538.1,534.8L538.5,535.3L538.9,535.5L539.3,535.7L539.7,534.8L540.1,534.7L540.5,535.3L540.9,535.6L541.3,536.2L541.7,535.3L542.1,535.1L542.5,535.2L542.9,535.1L543.3,535.4L543.7,535.8L544.1,535.8L544.5,535.5L544.9,535.2L545.3,535.5L545.7,535.7L546.1,535.6L546.5,535.7L546.9,535.0L547.4,535.3L547.8,535.8L548.2,535.5L548.6,535.2L549.0,535.1L549.4,535.0L549.8,535.7L550.2,535.3L550.6,535.4L551.0,535.2L551.4,535.1L551.8,536.0L552.2,536.3L552.6,536.1L553.0,536.5L553.4,536.5L553.8,535.8L554.2,535.4L554.6,535.7L555.0,535.2L555.4,534.5L555.8,535.3L556.2,535.8L556.6,535.8L557.0,535.7L557.4,535.8L557.8,535.6L558.2,535.6L558.6,535.5L559.0,535.7L559.4,535.9L559.8,536.3L560.2,536.4L560.6,536.1L561.1,536.0L561.5,535.9L561.9,535.9L562.3,535.8L562.7,535.2L563.1,535.5L563.5,535.6L563.9,536.0L564.3,535.6L564.7,535.5L565.1,535.8L565.5,536.1L565.9,535.8L566.3,536.3L566.7,536.7L567.1,536.7L567.5,536.2L567.9,536.1L568.3,535.8L568.7,535.6L569.1,535.6L569.5,535.8L569.9,536.0L570.3,536.2L570.7,536.4L571.1,536.5L571.5,536.4L571.9,536.2L572.3,536.4L572.7,536.2L573.1,536.1L573.5,536.9L573.9,536.8L574.3,536.6L574.8,536.4L575.2,536.7L575.6,536.3L576.0,535.8L576.4,536.4L576.8,536.4L577.2,536.2L577.6,536.5L578.0,536.6L578.4,536.3L578.8,536.8L579.2,536.8L579.6,536.5L580.0,536.4L580.4,536.1L580.8,536.2L581.2,535.9L581.6,536.1L582.0,535.9L582.4,536.2L582.8,536.5L583.2,536.4L583.6,536.2L584.0,536.5L584.4,536.6L584.8,536.9L585.2,537.1L585.6,536.5L586.0,536.4L586.4,536.7L586.8,536.5L587.2,536.7L587.6,537.2L588.0,536.9L588.5,536.4L588.9,536.2L589.3,536.1L589.7,535.8L590.1,536.3L590.5,536.9L590.9,536.9L591.3,536.4L591.7,536.6L592.1,536.8L592.5,536.9L592.9,537.0L593.3,536.8L593.7,536.5L594.1,536.4L594.5,536.4L594.9,536.4L595.3,536.8L595.7,537.0L596.1,537.0L596.5,537.2L596.9,536.6L597.3,536.5L597.7,536.6L598.1,537.0L598.5,537.0L598.9,536.9L599.3,537.1L599.7,537.1L600.1,536.9L600.5,536.8L600.9,536.9L601.3,536.4L601.7,536.1L602.2,536.5L602.6,536.8L603.0,536.8L603.4,536.4L603.8,536.6L604.2,536.6L604.6,536.8L605.0,536.8L605.4,536.5L605.8,536.8L606.2,537.0L606.6,537.2L607.0,536.5L607.4,536.5L607.8,536.9L608.2,537.1L608.6,537.2L609.0,537.3L609.4,537.0L609.8,537.1L610.2,536.8L610.6,536.6L611.0,536.4L611.4,536.7L611.8,536.8L612.2,536.9L612.6,537.1L613.0,537.0L613.4,536.8L613.8,536.6L614.2,536.7L614.6,536.9L615.0,536.7L615.4,537.1L615.9,537.2L616.3,536.7L616.7,536.9L617.1,537.2L617.5,537.3L617.9,537.1L618.3,536.7L618.7,536.7L619.1,536.5L619.5,536.8L619.9,536.8L620.3,537.0L620.7,537.2L621.1,537.2L621.5,537.2L621.9,537.4L622.3,537.4L622.7,537.0L623.1,536.8L623.5,536.9L623.9,537.1L624.3,537.2L624.7,536.8L625.1,536.9L625.5,537.3L625.9,537.2L626.3,537.3L626.7,537.4L627.1,536.8L627.5,536.7L627.9,536.9L628.3,536.8L628.7,537.1L629.1,537.0L629.6,536.9L630.0,537.1L630.4,537.2L630.8,537.3L631.2,537.0L631.6,537.0L632.0,537.4L632.4,537.4L632.8,537.2L633.2,537.0L633.6,537.3L634.0,537.4L634.4,537.2L634.8,537.1L635.2,537.5L635.6,537.3L636.0,537.0L636.4,537.2L636.8,537.3L637.2,537.2L637.6,537.3L638.0,536.9L638.4,537.0L638.8,537.3L639.2,537.3L639.6,537.3L640.0,537.4L640.4,537.6L640.8,537.5L641.2,537.6L641.6,537.2L642.0,537.5L642.4,537.6L642.8,537.5L643.3,537.2L643.7,537.2L644.1,537.1L644.5,537.3L644.9,537.3L645.3,537.3L645.7,537.3L646.1,537.0L646.5,536.9L646.9,537.1L647.3,537.5L647.7,537.4L648.1,537.6L648.5,537.8L648.9,537.8L649.3,537.6L649.7,537.2L650.1,536.9L650.5,536.9L650.9,537.4L651.3,537.5L651.7,537.3L652.1,537.3L652.5,537.4L652.9,537.7L653.3,537.5L653.7,537.2L654.1,537.3L654.5,537.4L654.9,537.5L655.3,537.3L655.7,537.0L656.1,537.1L656.5,537.0L657.0,537.0L657.4,537.4L657.8,537.3L658.2,537.1L658.6,537.1L659.0,537.3L659.4,537.5L659.8,537.5L660.2,537.4L660.6,537.4L661.0,537.4L661.4,537.4L661.8,537.5L662.2,537.6L662.6,537.6L663.0,537.5L663.4,537.3L663.8,537.2L664.2,537.6L664.6,537.9L665.0,537.5L665.4,537.4L665.8,537.6L666.2,537.4L666.6,537.2L667.0,537.7L667.4,537.8L667.8,537.7L668.2,538.1L668.6,537.7L669.0,537.2L669.4,537.2L669.8,537.4L670.2,537.5L670.7,537.3L671.1,536.9L671.5,537.2L671.9,537.3L672.3,537.6L672.7,537.5L673.1,537.4L673.5,537.6L673.9,537.9L674.3,537.6L674.7,537.2L675.1,537.3L675.5,537.6L675.9,537.5L676.3,537.8L676.7,537.5L677.1,537.5L677.5,537.7L677.9,537.9L678.3,537.9L678.7,537.6L679.1,537.2L679.5,537.2L679.9,537.4L680.3,537.4L680.7,537.6L681.1,537.7L681.5,538.1L681.9,537.9L682.3,537.7L682.7,537.6L683.1,537.6L683.5,537.5L683.9,537.6L684.4,537.5L684.8,537.5L685.2,537.5L685.6,537.5L686.0,537.4L686.4,537.5L686.8,537.7L687.2,537.7L687.6,537.9L688.0,537.7L688.4,537.6L688.8,537.7L689.2,537.6L689.6,537.4L690.0,537.3L690.4,537.4L690.8,537.7L691.2,537.7L691.6,537.5L692.0,537.6L692.4,537.9L692.8,537.4L693.2,537.4L693.6,537.8L694.0,537.6L694.4,537.7L694.8,537.8L695.2,538.0L695.6,538.0L696.0,537.8L696.4,537.8L696.8,537.9L697.2,537.9L697.6,537.9L698.1,538.0L698.5,538.0L698.9,537.8L699.3,537.6L699.7,538.1L700.1,538.1L700.5,537.9L700.9,537.9L701.3,538.0L701.7,537.9L702.1,538.0L702.5,537.8L702.9,537.6L703.3,537.7L703.7,537.8L704.1,537.8L704.5,537.8L704.9,537.8L705.3,537.9L705.7,537.6L706.1,537.5L706.5,537.4L706.9,537.5L707.3,537.8L707.7,538.4L708.1,538.0L708.5,537.5L708.9,537.7L709.3,537.9L709.7,537.8L710.1,537.8L710.5,537.9L710.9,538.0L711.3,537.8L711.8,537.6L712.2,537.7L712.6,537.9L713.0,538.0L713.4,537.9L713.8,538.1L714.2,538.2L714.6,538.1L715.0,538.0L715.4,537.8L715.8,537.7L716.2,538.0L716.6,538.0L717.0,537.9L717.4,538.1L717.8,538.1L718.2,538.1L718.6,538.1L719.0,538.0L719.4,537.7L719.8,537.7L720.2,538.1L720.6,538.3L721.0,538.2L721.4,538.1L721.8,538.2L722.2,537.7L722.6,537.9L723.0,538.0L723.4,538.0L723.8,538.3L724.2,538.1L724.6,538.0L725.0,538.0L725.5,538.2L725.9,537.9L726.3,537.8L726.7,538.0L727.1,538.2L727.5,538.4L727.9,538.5L728.3,538.3L728.7,537.9L729.1,537.7L729.5,537.7L729.9,537.8L730.3,538.1L730.7,538.3L731.1,538.5L731.5,538.4L731.9,538.4L732.3,538.2L732.7,538.0L733.1,538.1L733.5,538.2L733.9,537.9L734.3,537.8L734.7,538.0L735.1,538.3L735.5,538.0L735.9,538.2L736.3,538.5L736.7,538.3L737.1,538.2L737.5,538.5L737.9,538.1L738.3,538.0L738.7,538.2L739.2,538.5L739.6,538.5L740.0,538.4L740.4,538.1L740.8,538.3L741.2,538.2L741.6,538.4L742.0,538.5L742.4,538.1L742.8,537.9L743.2,537.9L743.6,538.2L744.0,538.2L744.4,538.1L744.8,538.1L745.2,538.0L745.6,537.8L746.0,538.1L746.4,538.1L746.8,538.2L747.2,538.0L747.6,538.3L748.0,538.4L748.4,538.2L748.8,538.2L749.2,538.3L749.6,538.4L750.0,538.4L750.4,538.2L750.8,538.1L751.2,538.0L751.6,538.2L752.0,538.0L752.4,538.2L752.9,538.4L753.3,538.2L753.7,538.5L754.1,538.4L754.5,538.6L754.9,538.4L755.3,538.4L755.7,538.5L756.1,538.7L756.5,538.5L756.9,538.1L757.3,538.1L757.7,538.3L758.1,538.4L758.5,538.3L758.9,538.1L759.3,538.1L759.7,538.1"/>
<path stroke="#ff00ff" d="M115.0,476.2L115.4,476.2L115.8,476.2L116.2,476.2L116.6,476.2L117.0,476.2L117.4,476.2L117.8,476.2L118.2,476.3L118.6,475.7L119.0,475.3L119.4,475.1L119.8,474.7L120.2,474.0L120.6,473.2L121.0,472.5L121.4,471.1L121.8,468.8L122.3,464.0L122.7,460.2L123.1,455.9L123.5,452.8L123.9,450.5L124.3,451.1L124.7,454.0L125.1,457.2L125.5,461.7L125.9,464.5L126.3,467.7L126.7,468.6L127.1,469.0L127.5,469.8L127.9,470.4L128.3,470.6L128.7,470.1L129.1,469.1L129.5,468.6L129.9,468.5L130.3,467.3L130.7,464.1L131.1,461.8L131.5,459.0L131.9,457.6L132.3,457.8L132.7,460.5L133.1,463.6L133.5,466.3L133.9,468.1L134.3,468.0L134.7,467.8L135.1,468.3L135.5,468.2L136.0,468.2L136.4,467.7L136.8,467.5L137.2,467.5L137.6,467.4L138.0,467.1L138.4,467.9L138.8,468.2L139.2,467.9L139.6,467.2L140.0,467.4L140.4,467.0L140.8,465.8L141.2,465.1L141.6,465.7L142.0,467.2L142.4,466.6L142.8,466.0L143.2,465.6L143.6,464.3L144.0,462.8L144.4,463.5L144.8,463.7L145.2,462.6L145.6,462.4L146.0,462.4L146.4,462.5L146.8,461.8L147.2,461.7L147.6,463.0L148.0,462.5L148.4,460.1L148.8,459.7L149.2,460.7L149.7,461.0L150.1,460.5L150.5,460.6L150.9,459.4L151.3,457.8L151.7,458.0L152.1,457.7L152.5,458.1L152.9,457.4L153.3,457.0L153.7,458.2L154.1,457.8L154.5,456.9L154.9,455.9L155.3,454.6L155.7,455.2L156.1,456.5L156.5,455.9L156.9,455.7L157.3,454.8L157.7,453.0L158.1,453.9L158.5,453.6L158.9,453.3L159.3,452.1L159.7,451.9L160.1,452.0L160.5,451.7L160.9,450.9L161.3,451.5L161.7,451.1L162.1,449.6L162.5,447.2L162.9,447.4L163.4,448.3L163.8,447.9L164.2,447.0L164.6,448.7L165.0,449.2L165.4,449.6L165.8,450.3L166.2,450.6L166.6,450.0L167.0,450.0L167.4,449.7L167.8,446.4L168.2,446.2L168.6,446.9L169.0,446.8L169.4,446.0L169.8,443.8L170.2,442.2L170.6,440.3L171.0,438.8L171.4,434.9L171.8,430.8L172.2,428.5L172.6,425.2L173.0,423.1L173.4,422.2L173.8,424.2L174.2,428.7L174.6,433.2L175.0,436.1L175.4,438.4L175.8,439.8L176.2,439.2L176.6,439.0L177.1,438.3L177.5,434.0L177.9,426.2L178.3,417.4L178.7,403.5L179.1,383.1L179.5,361.6L179.9,337.8L180.3,313.2L180.7,292.9L181.1,280.3L181.5,278.3L181.9,285.5L182.3,296.6L182.7,313.7L183.1,331.8L183.5,350.3L183.9,368.4L184.3,384.7L184.7,398.5L185.1,409.9L185.5,416.7L185.9,420.6L186.3,422.1L186.7,419.4L187.1,413.8L187.5,402.2L187.9,383.6L188.3,360.0L188.7,331.1L189.1,296.7L189.5,259.3L189.9,227.2L190.3,203.6L190.8,191.3L191.2,189.3L191.6,194.9L192.0,209.7L192.4,230.2L192.8,252.5L193.2,276.6L193.6,304.0L194.0,330.7L194.4,353.7L194.8,373.3L195.2,390.2L195.6,406.4L196.0,420.8L196.4,432.2L196.8,440.2L197.2,446.7L197.6,451.5L198.0,454.3L198.4,455.0L198.8,453.5L199.2,453.2L199.6,450.2L200.0,448.8L200.4,449.1L200.8,452.3L201.2,455.8L201.6,458.7L202.0,460.7L202.4,461.9L202.8,463.4L203.2,462.9L203.6,463.3L204.0,463.0L204.5,462.2L204.9,462.2L205.3,462.8L205.7,465.3L206.1,465.0L206.5,464.0L206.9,464.8L207.3,464.0L207.7,462.5L208.1,462.9L208.5,463.7L208.9,462.8L209.3,462.0L209.7,462.0L210.1,461.7L210.5,461.5L210.9,461.7L211.3,460.7L211.7,460.3L212.1,459.2L212.5,459.0L212.9,459.5L213.3,458.8L213.7,458.9L214.1,459.3L214.5,459.5L214.9,460.5L215.3,461.1L215.7,461.3L216.1,461.5L216.5,461.9L216.9,464.0L217.3,464.1L217.7,464.7L218.2,464.1L218.6,463.4L219.0,463.4L219.4,463.0L219.8,464.0L220.2,466.0L220.6,465.0L221.0,462.9L221.4,462.7L221.8,464.1L222.2,464.7L222.6,463.6L223.0,465.1L223.4,464.6L223.8,464.3L224.2,464.5L224.6,465.3L225.0,464.7L225.4,463.9L225.8,464.8L226.2,465.4L226.6,464.6L227.0,464.3L227.4,464.5L227.8,464.7L228.2,464.1L228.6,464.5L229.0,465.0L229.4,464.3L229.8,464.1L230.2,464.4L230.6,465.4L231.0,464.9L231.4,463.7L231.9,463.2L232.3,463.5L232.7,463.6L233.1,463.2L233.5,462.6L233.9,462.3L234.3,463.2L234.7,464.0L235.1,464.0L235.5,465.0L235.9,464.2L236.3,464.0L236.7,463.7L237.1,463.3L237.5,463.8L237.9,464.7L238.3,464.4L238.7,464.2L239.1,463.7L239.5,463.5L239.9,463.9L240.3,462.9L240.7,462.4L241.1,463.2L241.5,463.3L241.9,464.4L242.3,463.9L242.7,463.2L243.1,464.5L243.5,464.3L243.9,463.8L244.3,462.4L244.7,462.3L245.1,463.4L245.6,463.9L246.0,464.8L246.4,463.1L246.8,462.4L247.2,462.7L247.6,464.5L248.0,463.6L248.4,464.0L248.8,465.4L249.2,464.4L249.6,463.4L250.0,462.8L250.4,463.2L250.8,463.6L251.2,463.3L251.6,463.6L252.0,464.2L252.4,464.3L252.8,463.6L253.2,463.0L253.6,462.3L254.0,463.0L254.4,462.3L254.8,462.3L255.2,462.1L255.6,462.7L256.0,461.9L256.4,459.2L256.8,455.4L257.2,451.4L257.6,446.0L258.0,439.7L258.4,432.8L258.8,427.2L259.3,422.9L259.7,419.7L260.1,419.2L260.5,420.8L260.9,426.0L261.3,431.5L261.7,436.7L262.1,440.6L262.5,444.5L262.9,448.3L263.3,452.2L263.7,454.1L264.1,454.1L264.5,454.2L264.9,455.4L265.3,458.3L265.7,459.2L266.1,460.7L266.5,461.1L266.9,460.8L267.3,460.7L267.7,462.1L268.1,463.0L268.5,462.7L268.9,461.4L269.3,461.3L269.7,463.6L270.1,463.7L270.5,463.0L270.9,461.9L271.3,461.5L271.7,461.0L272.1,461.9L272.5,461.3L273.0,460.9L273.4,460.6L273.8,459.6L274.2,458.8L274.6,456.4L275.0,457.0L275.4,458.4L275.8,457.9L276.2,456.8L276.6,458.0L277.0,458.1L277.4,458.3L277.8,458.7L278.2,459.7L278.6,461.2L279.0,462.6L279.4,463.6L279.8,463.0L280.2,462.9L280.6,463.5L281.0,463.9L281.4,464.0L281.8,462.7L282.2,464.0L282.6,464.9L283.0,464.7L283.4,464.2L283.8,464.2L284.2,465.5L284.6,464.5L285.0,464.5L285.4,464.3L285.8,463.4L286.2,463.7L286.7,464.6L287.1,464.1L287.5,462.8L287.9,462.8L288.3,463.5L288.7,464.0L289.1,463.7L289.5,464.1L289.9,465.0L290.3,465.2L290.7,464.3L291.1,463.9L291.5,463.8L291.9,464.4L292.3,463.9L292.7,464.3L293.1,463.8L293.5,464.2L293.9,465.2L294.3,465.5L294.7,465.1L295.1,464.8L295.5,464.4L295.9,465.4L296.3,466.0L296.7,464.8L297.1,463.3L297.5,463.6L297.9,465.1L298.3,465.2L298.7,465.0L299.1,465.5L299.5,465.4L299.9,465.5L300.4,466.0L300.8,465.9L301.2,465.5L301.6,465.4L302.0,465.9L302.4,465.6L302.8,466.0L303.2,466.2L303.6,465.3L304.0,462.6L304.4,463.3L304.8,463.9L305.2,464.5L305.6,465.3L306.0,465.3L306.4,465.0L306.8,464.9L307.2,464.5L307.6,464.9L308.0,467.1L308.4,466.2L308.8,465.2L309.2,465.5L309.6,465.3L310.0,464.5L310.4,464.6L310.8,464.3L311.2,465.1L311.6,465.6L312.0,466.6L312.4,467.1L312.8,466.2L313.2,465.7L313.6,466.1L314.1,466.4L314.5,465.5L314.9,465.4L315.3,465.8L315.7,465.8L316.1,464.5L316.5,464.3L316.9,465.2L317.3,465.7L317.7,465.2L318.1,464.0L318.5,463.6L318.9,465.3L319.3,466.4L319.7,466.4L320.1,464.7L320.5,465.8L320.9,465.4L321.3,465.1L321.7,465.1L322.1,466.5L322.5,467.1L322.9,466.1L323.3,465.5L323.7,465.6L324.1,467.0L324.5,466.8L324.9,466.6L325.3,467.1L325.7,466.4L326.1,465.7L326.5,466.3L326.9,467.0L327.3,466.1L327.8,465.6L328.2,465.6L328.6,466.1L329.0,467.1L329.4,466.3L329.8,466.0L330.2,466.5L330.6,466.7L331.0,466.7L331.4,466.0L331.8,466.6L332.2,467.1L332.6,466.6L333.0,466.4L333.4,466.4L333.8,467.2L334.2,467.2L334.6,466.2L335.0,465.2L335.4,466.3L335.8,467.5L336.2,467.1L336.6,467.6L337.0,468.3L337.4,467.8L337.8,467.3L338.2,466.5L338.6,465.9L339.0,465.9L339.4,466.4L339.8,467.1L340.2,467.1L340.6,466.8L341.0,466.4L341.5,467.4L341.9,467.3L342.3,466.3L342.7,466.7L343.1,467.4L343.5,467.2L343.9,467.1L344.3,467.0L344.7,466.8L345.1,467.1L345.5,467.5L345.9,468.1L346.3,468.6L346.7,467.9L347.1,466.9L347.5,467.3L347.9,467.9L348.3,468.0L348.7,468.1L349.1,467.3L349.5,466.1L349.9,466.1L350.3,466.5L350.7,467.1L351.1,468.0L351.5,468.5L351.9,468.1L352.3,467.9L352.7,467.5L353.1,467.8L353.5,468.1L353.9,467.3L354.3,466.4L354.7,467.8L355.2,467.4L355.6,467.5L356.0,468.2L356.4,468.5L356.8,468.2L357.2,467.9L357.6,467.6L358.0,467.6L358.4,468.0L358.8,468.5L359.2,468.3L359.6,468.7L360.0,468.8L360.4,468.2L360.8,468.8L361.2,469.2L361.6,469.0L362.0,469.5L362.4,468.8L362.8,468.4L363.2,468.6L363.6,468.1L364.0,467.1L364.4,467.3L364.8,467.8L365.2,468.3L365.6,468.9L366.0,468.9L366.4,468.9L366.8,468.8L367.2,468.9L367.6,468.9L368.0,468.3L368.4,469.1L368.9,468.7L369.3,468.3L369.7,468.9L370.1,469.3L370.5,468.8L370.9,467.9L371.3,468.4L371.7,469.0L372.1,468.9L372.5,469.5L372.9,470.1L373.3,469.2L373.7,468.4L374.1,468.5L374.5,469.3L374.9,469.8L375.3,469.0L375.7,469.1L376.1,468.8L376.5,468.6L376.9,469.1L377.3,469.5L377.7,469.9L378.1,469.8L378.5,469.7L378.9,469.7L379.3,469.8L379.7,470.7L380.1,470.5L380.5,469.9L380.9,470.1L381.3,470.2L381.7,470.2L382.1,469.3L382.6,468.9L383.0,469.7L383.4,469.5L383.8,470.2L384.2,470.2L384.6,470.6L385.0,469.8L385.4,469.6L385.8,469.5L386.2,469.1L386.6,469.3L387.0,469.9L387.4,470.2L387.8,470.1L388.2,470.2L388.6,469.9L389.0,469.1L389.4,469.1L389.8,469.5L390.2,469.8L390.6,470.5L391.0,470.4L391.4,470.8L391.8,470.5L392.2,469.8L392.6,469.6L393.0,469.5L393.4,469.8L393.8,469.9L394.2,469.8L394.6,469.1L395.0,469.4L395.4,470.5L395.8,470.0L396.3,469.5L396.7,470.0L397.1,470.1L397.5,470.6L397.9,470.8L398.3,470.3L398.7,470.3L399.1,470.5L399.5,471.1L399.9,471.0L400.3,470.5L400.7,470.4L401.1,470.2L401.5,470.6L401.9,470.0L402.3,469.9L402.7,470.1L403.1,470.0L403.5,470.3L403.9,470.4L404.3,470.6L404.7,471.0L405.1,470.5L405.5,470.3L405.9,470.9L406.3,470.4L406.7,470.7L407.1,470.7L407.5,470.4L407.9,470.1L408.3,469.8L408.7,470.1L409.1,469.7L409.5,470.1L410.0,470.2L410.4,470.2L410.8,470.9L411.2,471.1L411.6,470.5L412.0,470.1L412.4,470.1L412.8,470.3L413.2,469.8L413.6,470.5L414.0,470.7L414.4,469.9L414.8,470.0L415.2,470.7L415.6,470.5L416.0,471.0L416.4,470.4L416.8,469.3L417.2,469.5L417.6,470.0L418.0,470.3L418.4,470.8L418.8,470.5L419.2,470.5L419.6,471.0L420.0,470.6L420.4,470.3L420.8,470.4L421.2,470.5L421.6,470.9L422.0,471.2L422.4,471.1L422.8,471.7L423.2,471.2L423.7,470.1L424.1,469.7L424.5,470.7L424.9,471.6L425.3,470.4L425.7,470.4L426.1,470.7L426.5,470.4L426.9,470.6L427.3,471.5L427.7,471.4L428.1,470.9L428.5,471.6L428.9,470.9L429.3,470.5L429.7,470.1L430.1,469.8L430.5,469.8L430.9,469.9L431.3,470.3L431.7,470.4L432.1,470.4L432.5,470.9L432.9,471.4L433.3,471.4L433.7,471.8L434.1,471.2L434.5,470.1L434.9,470.5L435.3,471.1L435.7,471.6L436.1,472.0L436.5,471.7L436.9,471.5L437.4,471.2L437.8,471.1L438.2,471.4L438.6,471.8L439.0,470.7L439.4,470.8L439.8,471.2L440.2,471.3L440.6,470.9L441.0,470.5L441.4,470.9L441.8,471.8L442.2,472.3L442.6,472.4L443.0,471.4L443.4,470.7L443.8,470.6L444.2,470.9L444.6,471.0L445.0,471.4L445.4,471.1L445.8,471.3L446.2,471.7L446.6,471.7L447.0,471.0L447.4,471.4L447.8,470.5L448.2,470.1L448.6,469.1L449.0,468.4L449.4,467.0L449.8,466.2L450.2,465.3L450.6,463.7L451.0,462.2L451.5,458.9L451.9,456.2L452.3,455.0L452.7,453.9L453.1,452.9L453.5,453.8L453.9,453.5L454.3,454.4L454.7,455.9L455.1,457.2L455.5,459.8L455.9,461.2L456.3,462.8L456.7,465.2L457.1,466.3L457.5,466.9L457.9,468.0L458.3,469.5L458.7,469.7L459.1,470.4L459.5,470.8L459.9,471.1L460.3,471.0L460.7,471.4L461.1,471.2L461.5,471.0L461.9,471.1L462.3,471.6L462.7,471.2L463.1,471.0L463.5,470.8L463.9,471.4L464.3,471.7L464.7,471.5L465.2,471.6L465.6,471.7L466.0,472.3L466.4,472.7L466.8,472.4L467.2,471.8L467.6,471.4L468.0,471.6L468.4,471.9L468.8,471.6L469.2,471.1L469.6,470.1L470.0,470.5L470.4,471.4L470.8,472.1L471.2,471.8L471.6,471.6L472.0,471.0L472.4,470.5L472.8,471.5L473.2,472.4L473.6,472.1L474.0,472.1L474.4,471.3L474.8,470.9L475.2,471.5L475.6,472.2L476.0,471.7L476.4,471.2L476.8,471.9L477.2,471.9L477.6,471.5L478.0,471.4L478.4,471.5L478.9,471.4L479.3,471.6L479.7,471.9L480.1,471.7L480.5,471.7L480.9,472.0L481.3,471.7L481.7,471.5L482.1,471.4L482.5,471.6L482.9,472.3L483.3,472.3L483.7,471.8L484.1,471.7L484.5,471.8L484.9,472.1L485.3,472.3L485.7,471.8L486.1,471.7L486.5,471.4L486.9,471.1L487.3,471.0L487.7,471.4L488.1,472.3L488.5,472.9L488.9,472.5L489.3,472.6L489.7,472.4L490.1,472.0L490.5,472.3L490.9,471.5L491.3,470.9L491.7,470.5L492.1,470.8L492.6,471.0L493.0,471.9L493.4,472.1L493.8,471.8L494.2,472.1L494.6,471.7L495.0,472.1L495.4,472.5L495.8,471.6L496.2,471.8L496.6,471.3L497.0,472.3L497.4,472.5L497.8,472.0L498.2,472.2L498.6,472.6L499.0,472.1L499.4,471.8L499.8,472.0L500.2,472.7L500.6,472.5L501.0,472.0L501.4,471.7L501.8,471.9L502.2,472.2L502.6,472.1L503.0,471.6L503.4,472.2L503.8,472.4L504.2,472.7L504.6,471.6L505.0,471.9L505.4,472.7L505.8,471.9L506.3,471.4L506.7,471.6L507.1,471.9L507.5,471.9L507.9,472.4L508.3,472.4L508.7,472.3L509.1,472.3L509.5,472.4L509.9,471.8L510.3,472.2L510.7,472.7L511.1,472.4L511.5,472.1L511.9,472.0L512.3,471.9L512.7,472.3L513.1,472.5L513.5,471.9L513.9,471.6L514.3,472.4L514.7,472.6L515.1,472.0L515.5,471.5L515.9,471.3L516.3,470.7L516.7,470.2L517.1,469.3L517.5,469.5L517.9,469.0L518.3,467.8L518.7,466.7L519.1,466.3L519.5,466.8L520.0,466.5L520.4,465.8L520.8,465.8L521.2,467.4L521.6,468.1L522.0,467.8L522.4,468.2L522.8,468.3L523.2,469.3L523.6,470.1L524.0,471.0L524.4,471.0L524.8,471.1L525.2,472.0L525.6,472.6L526.0,472.3L526.4,472.6L526.8,472.8L527.2,473.0L527.6,472.7L528.0,473.2L528.4,473.2L528.8,473.1L529.2,473.4L529.6,473.8L530.0,473.3L530.4,473.4L530.8,473.2L531.2,473.2L531.6,473.3L532.0,473.5L532.4,473.6L532.8,473.2L533.2,473.0L533.7,472.8L534.1,473.0L534.5,473.2L534.9,472.6L535.3,472.3L535.7,472.8L536.1,473.3L536.5,473.6L536.9,473.5L537.3,473.7L537.7,473.2L538.1,473.4L538.5,473.5L538.9,473.4L539.3,473.9L539.7,474.1L540.1,473.5L540.5,473.1L540.9,473.4L541.3,473.4L541.7,473.9L542.1,473.6L542.5,473.0L542.9,473.0L543.3,473.8L543.7,473.7L544.1,473.7L544.5,473.5L544.9,473.6L545.3,473.6L545.7,473.8L546.1,473.7L546.5,473.3L546.9,473.0L547.4,473.3L547.8,473.5L548.2,473.5L548.6,473.3L549.0,474.2L549.4,474.5L549.8,474.0L550.2,473.4L550.6,473.2L551.0,473.2L551.4,473.3L551.8,473.5L552.2,473.9L552.6,474.0L553.0,473.7L553.4,473.9L553.8,473.5L554.2,473.5L554.6,473.8L555.0,473.9L555.4,473.8L555.8,473.5L556.2,473.7L556.6,473.9L557.0,473.6L557.4,473.2L557.8,473.5L558.2,473.7L558.6,474.0L559.0,474.1L559.4,473.9L559.8,473.8L560.2,473.8L560.6,473.5L561.1,473.8L561.5,473.9L561.9,473.7L562.3,473.9L562.7,474.3L563.1,473.8L563.5,473.6L563.9,474.1L564.3,473.9L564.7,474.1L565.1,474.2L565.5,474.0L565.9,474.1L566.3,474.6L566.7,474.2L567.1,473.8L567.5,474.1L567.9,474.3L568.3,474.2L568.7,474.1L569.1,473.9L569.5,474.3L569.9,474.4L570.3,473.9L570.7,473.6L571.1,473.7L571.5,473.8L571.9,474.3L572.3,474.6L572.7,474.4L573.1,474.3L573.5,474.6L573.9,474.3L574.3,474.0L574.8,474.1L575.2,473.6L575.6,473.9L576.0,474.5L576.4,474.6L576.8,474.4L577.2,474.0L577.6,474.0L578.0,474.3L578.4,474.1L578.8,473.9L579.2,474.1L579.6,474.7L580.0,474.8L580.4,474.7L580.8,474.7L581.2,474.2L581.6,474.4L582.0,474.6L582.4,474.5L582.8,474.2L583.2,474.1L583.6,474.0L584.0,474.0L584.4,474.3L584.8,473.8L585.2,473.6L585.6,474.3L586.0,474.4L586.4,474.1L586.8,474.0L587.2,474.4L587.6,474.4L588.0,474.0L588.5,474.6L588.9,475.1L589.3,474.4L589.7,474.0L590.1,473.8L590.5,473.6L590.9,473.6L591.3,474.4L591.7,474.9L592.1,474.8L592.5,474.2L592.9,474.6L593.3,475.1L593.7,475.2L594.1,474.7L594.5,474.6L594.9,474.6L595.3,474.8L595.7,474.8L596.1,474.5L596.5,474.5L596.9,474.5L597.3,474.6L597.7,474.6L598.1,474.6L598.5,474.7L598.9,474.6L599.3,474.5L599.7,474.7L600.1,474.7L600.5,474.6L600.9,474.5L601.3,474.5L601.7,474.6L602.2,474.6L602.6,474.7L603.0,474.7L603.4,475.0L603.8,475.2L604.2,474.9L604.6,475.2L605.0,474.8L605.4,474.3L605.8,474.5L606.2,474.9L606.6,474.6L607.0,474.7L607.4,474.9L607.8,474.9L608.2,474.9L608.6,474.9L609.0,474.8L609.4,475.0L609.8,474.6L610.2,474.3L610.6,474.7L611.0,475.1L611.4,474.9L611.8,474.6L612.2,474.8L612.6,474.6L613.0,474.3L613.4,474.8L613.8,474.9L614.2,475.0L614.6,475.0L615.0,474.9L615.4,475.0L615.9,474.8L616.3,474.7L616.7,474.5L617.1,474.6L617.5,474.6L617.9,474.5L618.3,474.8L618.7,474.8L619.1,474.9L619.5,474.7L619.9,474.9L620.3,474.8L620.7,475.0L621.1,475.0L621.5,475.2L621.9,475.2L622.3,475.2L622.7,474.9L623.1,474.7L623.5,474.7L623.9,474.8L624.3,474.9L624.7,474.7L625.1,474.6L625.5,475.0L625.9,475.1L626.3,474.8L626.7,474.5L627.1,474.9L627.5,475.1L627.9,475.3L628.3,475.3L628.7,475.3L629.1,475.2L629.6,474.8L630.0,474.7L630.4,474.9L630.8,474.9L631.2,474.9L631.6,475.0L632.0,475.0L632.4,474.9L632.8,474.9L633.2,474.6L633.6,474.3L634.0,474.8L634.4,475.1L634.8,475.3L635.2,475.2L635.6,475.1L636.0,475.0L636.4,475.2L636.8,475.3L637.2,475.1L637.6,475.1L638.0,475.1L638.4,475.1L638.8,475.1L639.2,475.3L639.6,475.4L640.0,475.0L640.4,475.2L640.8,475.0L641.2,475.0L641.6,475.3L642.0,475.4L642.4,475.1L642.8,475.3L643.3,475.2L643.7,475.1L644.1,475.3L644.5,475.5L644.9,475.3L645.3,475.1L645.7,475.2L646.1,475.1L646.5,475.4L646.9,475.5L647.3,475.6L647.7,475.3L648.1,474.9L648.5,475.0L648.9,475.2L649.3,475.2L649.7,475.0L650.1,475.2L650.5,475.3L650.9,475.0L651.3,475.3L651.7,475.2L652.1,475.0L652.5,474.8L652.9,474.7L653.3,474.9L653.7,475.2L654.1,475.0L654.5,475.1L654.9,475.5L655.3,475.5L655.7,475.6L656.1,475.6L656.5,475.2L657.0,475.0L657.4,475.1L657.8,475.3L658.2,475.2L658.6,475.0L659.0,475.1L659.4,475.3L659.8,475.4L660.2,475.2L660.6,475.0L661.0,475.0L661.4,474.6L661.8,474.6L662.2,475.0L662.6,475.5L663.0,475.3L663.4,475.0L663.8,475.3L664.2,475.4L664.6,475.1L665.0,474.8L665.4,475.3L665.8,475.6L666.2,475.3L666.6,475.1L667.0,475.1L667.4,475.2L667.8,475.2L668.2,475.3L668.6,475.1L669.0,475.2L669.4,475.2L669.8,475.3L670.2,475.0L670.7,475.2L671.1,475.3L671.5,475.4L671.9,475.5L672.3,475.4L672.7,475.1L673.1,475.1L673.5,475.1L673.9,475.1L674.3,475.3L674.7,475.2L675.1,475.0L675.5,475.3L675.9,475.6L676.3,475.5L676.7,475.4L677.1,475.4L677.5,475.4L677.9,475.5L678.3,475.4L678.7,475.3L679.1,475.3L679.5,475.5L679.9,475.6L680.3,475.4L680.7,475.2L681.1,475.6L681.5,475.3L681.9,475.3L682.3,475.2L682.7,475.4L683.1,475.4L683.5,475.2L683.9,475.0L684.4,475.3L684.8,475.5L685.2,475.6L685.6,475.5L686.0,475.6L686.4,475.5L686.8,475.4L687.2,475.4L687.6,475.7L688.0,475.6L688.4,475.4L688.8,475.5L689.2,475.5L689.6,475.6L690.0,475.8L690.4,475.6L690.8,475.4L691.2,475.3L691.6,475.8L692.0,475.7L692.4,475.5L692.8,475.7L693.2,475.9L693.6,475.5L694.0,475.5L694.4,475.8L694.8,475.8L695.2,475.7L695.6,475.6L696.0,475.6L696.4,475.7L696.8,475.5L697.2,475.4L697.6,475.5L698.1,475.3L698.5,475.5L698.9,475.5L699.3,475.5L699.7,475.5L700.1,475.7L700.5,476.1L700.9,475.9L701.3,475.6L701.7,475.8L702.1,475.8L702.5,476.0L702.9,475.8L703.3,475.4L703.7,475.6L704.1,475.8L704.5,475.9L704.9,476.0L705.3,475.7L705.7,475.7L706.1,475.5L706.5,475.5L706.9,475.8L707.3,476.0L707.7,476.0L708.1,475.9L708.5,475.7L708.9,475.5L709.3,475.8L709.7,475.8L710.1,475.9L710.5,475.9L710.9,475.6L711.3,475.6L711.8,475.9L712.2,475.8L712.6,475.6L713.0,475.8L713.4,475.9L713.8,475.8L714.2,475.3L714.6,475.3L715.0,475.4L715.4,475.3L715.8,475.6L716.2,475.8L716.6,475.6L717.0,475.6L717.4,475.8L717.8,475.6L718.2,475.4L718.6,475.4L719.0,475.6L719.4,475.7L719.8,476.1L720.2,475.9L720.6,475.6L721.0,475.6L721.4,475.8L721.8,476.1L722.2,476.1L722.6,476.2L723.0,476.0L723.4,475.8L723.8,475.9L724.2,475.8L724.6,475.8L725.0,475.7L725.5,476.0L725.9,476.3L726.3,476.3L726.7,476.1L727.1,475.9L727.5,475.9L727.9,476.0L728.3,476.0L728.7,476.0L729.1,475.9L729.5,476.0L729.9,475.8L730.3,475.8L730.7,476.0L731.1,476.1L731.5,475.9L731.9,476.0L732.3,475.7L732.7,475.5L733.1,475.8L733.5,475.8L733.9,475.8L734.3,475.9L734.7,475.6L735.1,475.8L735.5,475.8L735.9,475.9L736.3,475.9L736.7,475.7L737.1,475.8L737.5,476.1L737.9,476.2L738.3,476.4L738.7,476.2L739.2,475.8L739.6,475.8L740.0,476.0L740.4,475.8L740.8,475.7L741.2,475.7L741.6,475.8L742.0,476.2L742.4,476.1L742.8,476.1L743.2,476.0L743.6,476.1L744.0,475.9L744.4,475.9L744.8,476.3L745.2,476.3L745.6,476.2L746.0,476.1L746.4,476.2L746.8,475.8L747.2,475.6L747.6,475.9L748.0,476.1L748.4,476.6L748.8,476.4L749.2,476.0L749.6,475.9L750.0,475.8L750.4,475.7L750.8,476.0L751.2,476.1L751.6,476.1L752.0,476.2L752.4,476.4L752.9,476.0L753.3,476.5L753.7,476.5L754.1,476.1L754.5,475.9L754.9,475.8L755.3,475.8L755.7,476.1L756.1,476.2L756.5,476.1L756.9,476.3L757.3,476.1L757.7,476.0L758.1,476.1L758.5,476.5L758.9,476.4L759.3,476.4L759.7,476.1"/>
<path stroke="#0000ff" d="M115.0,414.0L115.4,414.0L115.8,414.0L116.2,414.0L116.6,414.0L117.0,414.0L117.4,414.0L117.8,414.0L118.2,413.8L118.6,413.5L119.0,412.8L119.4,412.8L119.8,412.2L120.2,411.2L120.6,411.0L121.0,410.1L121.4,408.4L121.8,405.9L122.3,403.6L122.7,398.7L123.1,392.8L123.5,390.3L123.9,389.4L124.3,389.4L124.7,391.6L125.1,395.0L125.5,399.0L125.9,403.2L126.3,404.9L126.7,406.6L127.1,407.1L127.5,407.8L127.9,408.4L128.3,408.2L128.7,408.1L129.1,407.1L129.5,406.6L129.9,405.6L130.3,404.1L130.7,399.9L131.1,396.5L131.5,392.7L131.9,392.0L132.3,394.6L132.7,397.4L133.1,400.9L133.5,403.1L133.9,404.1L134.3,405.0L134.7,405.6L135.1,406.5L135.5,406.0L136.0,405.4L136.4,405.1L136.8,405.6L137.2,405.1L137.6,405.2L138.0,406.2L138.4,405.9L138.8,405.2L139.2,405.6L139.6,405.2L140.0,403.8L140.4,403.5L140.8,403.5L141.2,403.2L141.6,403.2L142.0,403.0L142.4,402.5L142.8,401.3L143.2,400.6L143.6,401.2L144.0,401.0L144.4,401.0L144.8,401.1L145.2,399.7L145.6,399.0L146.0,399.4L146.4,398.6L146.8,398.5L147.2,397.2L147.6,396.9L148.0,398.2L148.4,399.2L148.8,398.4L149.2,398.4L149.7,398.1L150.1,396.6L150.5,395.2L150.9,395.6L151.3,396.3L151.7,397.0L152.1,396.4L152.5,395.9L152.9,394.6L153.3,394.6L153.7,394.1L154.1,393.6L154.5,393.1L154.9,392.0L155.3,391.9L155.7,392.2L156.1,391.5L156.5,390.5L156.9,389.7L157.3,389.8L157.7,389.2L158.1,390.0L158.5,390.2L158.9,390.1L159.3,388.8L159.7,389.4L160.1,389.1L160.5,387.7L160.9,387.9L161.3,387.2L161.7,385.2L162.1,384.0L162.5,382.5L162.9,382.3L163.4,381.7L163.8,382.2L164.2,383.5L164.6,384.0L165.0,385.9L165.4,386.5L165.8,386.1L166.2,385.5L166.6,385.8L167.0,385.7L167.4,384.5L167.8,383.6L168.2,384.4L168.6,384.7L169.0,383.2L169.4,381.8L169.8,381.0L170.2,379.5L170.6,378.2L171.0,374.8L171.4,371.4L171.8,367.7L172.2,363.9L172.6,360.4L173.0,358.7L173.4,358.2L173.8,361.6L174.2,365.0L174.6,368.1L175.0,372.4L175.4,376.5L175.8,376.8L176.2,377.2L176.6,376.9L177.1,374.3L177.5,369.7L177.9,361.8L178.3,350.7L178.7,331.8L179.1,306.5L179.5,276.2L179.9,240.5L180.3,208.0L180.7,184.3L181.1,170.1L181.5,168.0L181.9,175.6L182.3,191.6L182.7,212.7L183.1,237.6L183.5,261.2L183.9,284.3L184.3,304.9L184.7,324.8L185.1,339.1L185.5,349.9L185.9,355.9L186.3,359.0L186.7,359.2L187.1,354.2L187.5,342.4L187.9,322.6L188.3,296.5L188.7,265.9L189.1,232.5L189.5,198.3L189.9,166.7L190.3,143.5L190.8,130.2L191.2,127.1L191.6,133.9L192.0,147.6L192.4,166.6L192.8,188.4L193.2,213.6L193.6,240.8L194.0,266.2L194.4,288.9L194.8,308.5L195.2,327.0L195.6,343.5L196.0,356.0L196.4,368.4L196.8,378.9L197.2,386.1L197.6,389.3L198.0,391.5L198.4,392.9L198.8,391.4L199.2,388.7L199.6,386.7L200.0,384.9L200.4,385.5L200.8,389.5L201.2,394.2L201.6,396.7L202.0,398.0L202.4,398.6L202.8,400.9L203.2,402.1L203.6,401.3L204.0,401.2L204.5,401.6L204.9,401.2L205.3,401.1L205.7,401.1L206.1,402.3L206.5,402.6L206.9,402.3L207.3,401.9L207.7,400.8L208.1,400.7L208.5,400.7L208.9,399.6L209.3,399.5L209.7,398.9L210.1,398.7L210.5,398.9L210.9,398.6L211.3,398.3L211.7,398.4L212.1,397.5L212.5,396.3L212.9,396.7L213.3,397.0L213.7,395.8L214.1,397.4L214.5,397.3L214.9,397.1L215.3,397.7L215.7,399.4L216.1,399.8L216.5,399.8L216.9,399.5L217.3,400.0L217.7,400.4L218.2,400.1L218.6,399.6L219.0,400.3L219.4,401.0L219.8,401.9L220.2,401.7L220.6,402.2L221.0,401.4L221.4,401.7L221.8,402.7L222.2,402.9L222.6,402.2L223.0,402.0L223.4,402.4L223.8,402.5L224.2,402.5L224.6,402.6L225.0,402.3L225.4,401.6L225.8,400.9L226.2,401.4L226.6,401.8L227.0,400.7L227.4,400.8L227.8,401.6L228.2,401.3L228.6,402.1L229.0,402.6L229.4,402.1L229.8,400.8L230.2,401.2L230.6,401.4L231.0,401.6L231.4,401.8L231.9,401.2L232.3,400.5L232.7,400.2L233.1,401.3L233.5,400.5L233.9,401.0L234.3,402.2L234.7,400.7L235.1,399.8L235.5,400.2L235.9,400.9L236.3,401.6L236.7,402.5L237.1,401.5L237.5,401.3L237.9,401.8L238.3,401.4L238.7,401.1L239.1,400.0L239.5,401.7L239.9,402.6L240.3,402.9L240.7,401.9L241.1,401.1L241.5,401.2L241.9,401.3L242.3,400.5L242.7,400.4L243.1,400.2L243.5,401.2L243.9,402.3L244.3,401.7L244.7,401.5L245.1,400.8L245.6,401.2L246.0,401.2L246.4,401.3L246.8,402.1L247.2,401.3L247.6,400.5L248.0,401.2L248.4,401.2L248.8,401.1L249.2,401.6L249.6,401.3L250.0,401.0L250.4,401.3L250.8,401.3L251.2,401.5L251.6,402.3L252.0,402.0L252.4,399.9L252.8,399.9L253.2,400.8L253.6,400.4L254.0,400.0L254.4,400.3L254.8,401.2L255.2,401.9L255.6,401.0L256.0,398.6L256.4,394.9L256.8,391.7L257.2,388.6L257.6,383.0L258.0,374.8L258.4,367.3L258.8,362.3L259.3,356.8L259.7,353.9L260.1,354.2L260.5,356.8L260.9,361.3L261.3,367.0L261.7,373.5L262.1,377.8L262.5,381.1L262.9,384.2L263.3,386.8L263.7,389.0L264.1,390.3L264.5,390.7L264.9,393.0L265.3,394.0L265.7,394.5L266.1,396.4L266.5,398.4L266.9,399.0L267.3,399.3L267.7,399.7L268.1,400.0L268.5,399.5L268.9,399.6L269.3,400.2L269.7,400.6L270.1,399.8L270.5,399.0L270.9,398.5L271.3,399.7L271.7,399.1L272.1,397.8L272.5,398.2L273.0,397.0L273.4,395.8L273.8,395.4L274.2,395.2L274.6,394.5L275.0,394.4L275.4,393.0L275.8,393.6L276.2,393.8L276.6,394.2L277.0,394.7L277.4,395.4L277.8,396.1L278.2,397.4L278.6,398.3L279.0,399.8L279.4,400.6L279.8,401.0L280.2,401.6L280.6,402.1L281.0,401.7L281.4,400.9L281.8,401.1L282.2,401.7L282.6,401.5L283.0,400.8L283.4,400.3L283.8,402.3L284.2,402.4L284.6,402.5L285.0,401.5L285.4,401.8L285.8,401.7L286.2,401.7L286.7,402.2L287.1,404.1L287.5,403.5L287.9,402.6L288.3,402.9L288.7,401.8L289.1,401.6L289.5,402.9L289.9,402.7L290.3,401.6L290.7,400.7L291.1,401.1L291.5,401.8L291.9,402.8L292.3,402.5L292.7,402.5L293.1,402.7L293.5,402.4L293.9,402.7L294.3,402.4L294.7,401.3L295.1,401.8L295.5,401.5L295.9,402.5L296.3,403.0L296.7,403.6L297.1,403.0L297.5,401.8L297.9,402.8L298.3,403.8L298.7,402.5L299.1,403.2L299.5,403.3L299.9,403.4L300.4,403.8L300.8,402.0L301.2,401.8L301.6,402.8L302.0,402.9L302.4,403.2L302.8,403.5L303.2,403.6L303.6,404.1L304.0,403.7L304.4,403.1L304.8,402.3L305.2,403.3L305.6,402.4L306.0,402.3L306.4,403.0L306.8,403.1L307.2,401.8L307.6,401.9L308.0,402.9L308.4,403.3L308.8,402.7L309.2,402.2L309.6,403.4L310.0,403.2L310.4,402.8L310.8,403.9L311.2,403.4L311.6,402.7L312.0,403.4L312.4,403.8L312.8,404.3L313.2,403.7L313.6,404.1L314.1,403.8L314.5,403.4L314.9,403.5L315.3,402.9L315.7,402.7L316.1,402.8L316.5,402.8L316.9,403.9L317.3,404.7L317.7,403.3L318.1,403.0L318.5,403.9L318.9,404.0L319.3,403.1L319.7,403.7L320.1,404.1L320.5,403.5L320.9,402.5L321.3,404.2L321.7,405.5L322.1,404.6L322.5,404.8L322.9,405.1L323.3,404.3L323.7,404.0L324.1,403.6L324.5,403.8L324.9,403.1L325.3,403.2L325.7,403.7L326.1,403.2L326.5,402.7L326.9,403.6L327.3,404.9L327.8,404.4L328.2,403.8L328.6,403.5L329.0,403.9L329.4,403.6L329.8,404.2L330.2,404.4L330.6,404.5L331.0,404.5L331.4,404.4L331.8,404.4L332.2,405.1L332.6,405.3L333.0,404.8L333.4,404.6L333.8,404.7L334.2,404.4L334.6,404.0L335.0,403.9L335.4,404.8L335.8,404.3L336.2,406.1L336.6,406.3L337.0,405.2L337.4,405.4L337.8,405.4L338.2,405.5L338.6,406.1L339.0,406.1L339.4,405.4L339.8,404.8L340.2,404.6L340.6,405.0L341.0,405.1L341.5,405.0L341.9,406.2L342.3,405.4L342.7,404.2L343.1,403.9L343.5,404.0L343.9,404.1L344.3,404.5L344.7,405.5L345.1,406.7L345.5,406.2L345.9,405.4L346.3,404.7L346.7,405.5L347.1,405.7L347.5,405.4L347.9,406.0L348.3,405.6L348.7,405.3L349.1,405.7L349.5,406.1L349.9,406.9L350.3,406.8L350.7,405.9L351.1,405.3L351.5,406.1L351.9,406.6L352.3,406.3L352.7,405.9L353.1,406.5L353.5,406.1L353.9,406.1L354.3,406.1L354.7,406.4L355.2,405.8L355.6,405.3L356.0,406.1L356.4,406.9L356.8,407.5L357.2,406.5L357.6,406.4L358.0,406.1L358.4,406.2L358.8,406.8L359.2,407.0L359.6,406.8L360.0,405.3L360.4,405.3L360.8,405.5L361.2,405.3L361.6,405.3L362.0,405.5L362.4,405.3L362.8,405.2L363.2,406.9L363.6,406.8L364.0,406.8L364.4,407.1L364.8,408.1L365.2,407.5L365.6,406.6L366.0,407.0L366.4,406.7L366.8,407.0L367.2,407.2L367.6,407.6L368.0,407.6L368.4,407.6L368.9,407.1L369.3,407.6L369.7,407.1L370.1,407.1L370.5,406.8L370.9,406.2L371.3,406.9L371.7,407.3L372.1,406.9L372.5,406.7L372.9,406.9L373.3,406.2L373.7,406.7L374.1,407.3L374.5,407.5L374.9,407.2L375.3,406.7L375.7,406.5L376.1,407.1L376.5,407.5L376.9,407.7L377.3,408.1L377.7,406.9L378.1,406.7L378.5,407.1L378.9,407.2L379.3,407.4L379.7,406.6L380.1,407.2L380.5,407.2L380.9,406.5L381.3,407.4L381.7,407.4L382.1,407.7L382.6,407.7L383.0,407.6L383.4,407.4L383.8,406.5L384.2,406.6L384.6,407.0L385.0,406.2L385.4,407.0L385.8,407.4L386.2,407.3L386.6,407.6L387.0,407.0L387.4,407.8L387.8,408.0L388.2,407.2L388.6,407.7L389.0,407.9L389.4,408.2L389.8,407.9L390.2,407.9L390.6,408.7L391.0,408.1L391.4,407.7L391.8,406.7L392.2,406.3L392.6,406.9L393.0,407.1L393.4,406.9L393.8,407.2L394.2,408.4L394.6,408.6L395.0,408.4L395.4,408.5L395.8,408.1L396.3,407.9L396.7,408.1L397.1,407.5L397.5,407.0L397.9,407.5L398.3,407.6L398.7,407.8L399.1,408.0L399.5,408.3L399.9,408.4L400.3,407.6L400.7,407.3L401.1,407.8L401.5,408.1L401.9,408.6L402.3,408.2L402.7,407.9L403.1,408.0L403.5,408.1L403.9,408.7L404.3,408.8L404.7,408.1L405.1,407.4L405.5,408.2L405.9,408.9L406.3,408.7L406.7,408.1L407.1,407.4L407.5,407.5L407.9,408.5L408.3,408.8L408.7,408.4L409.1,408.4L409.5,408.5L410.0,408.0L410.4,408.2L410.8,408.2L411.2,408.2L411.6,408.0L412.0,408.2L412.4,408.0L412.8,407.6L413.2,407.8L413.6,407.8L414.0,408.7L414.4,408.8L414.8,409.1L415.2,409.2L415.6,408.3L416.0,407.5L416.4,407.8L416.8,408.2L417.2,409.1L417.6,408.8L418.0,408.9L418.4,408.4L418.8,408.0L419.2,408.4L419.6,408.2L420.0,408.7L420.4,408.7L420.8,408.8L421.2,408.6L421.6,409.0L422.0,409.7L422.4,409.2L422.8,408.6L423.2,408.3L423.7,409.5L424.1,408.9L424.5,408.0L424.9,407.5L425.3,407.8L425.7,408.3L426.1,408.1L426.5,408.6L426.9,408.9L427.3,409.0L427.7,408.8L428.1,408.4L428.5,409.5L428.9,409.6L429.3,408.6L429.7,408.4L430.1,408.4L430.5,408.8L430.9,408.7L431.3,409.0L431.7,409.2L432.1,409.2L432.5,408.9L432.9,409.0L433.3,408.9L433.7,408.3L434.1,408.6L434.5,409.3L434.9,409.7L435.3,409.5L435.7,409.9L436.1,409.9L436.5,409.8L436.9,409.6L437.4,409.6L437.8,410.3L438.2,408.9L438.6,408.8L439.0,409.4L439.4,409.4L439.8,409.0L440.2,408.9L440.6,408.5L441.0,409.2L441.4,409.9L441.8,410.0L442.2,409.3L442.6,409.0L443.0,409.4L443.4,408.8L443.8,408.7L444.2,409.1L444.6,409.0L445.0,410.1L445.4,410.4L445.8,409.3L446.2,408.8L446.6,408.8L447.0,409.0L447.4,409.1L447.8,408.2L448.2,407.5L448.6,406.4L449.0,405.8L449.4,405.1L449.8,402.7L450.2,400.2L450.6,398.4L451.0,397.4L451.5,395.3L451.9,392.1L452.3,390.4L452.7,388.9L453.1,387.1L453.5,386.5L453.9,387.5L454.3,388.7L454.7,389.7L455.1,392.8L455.5,394.7L455.9,396.9L456.3,400.2L456.7,401.8L457.1,402.6L457.5,404.7L457.9,406.2L458.3,406.2L458.7,407.3L459.1,407.8L459.5,408.0L459.9,409.3L460.3,409.6L460.7,409.4L461.1,408.9L461.5,409.1L461.9,408.3L462.3,408.7L462.7,409.0L463.1,408.9L463.5,409.4L463.9,409.8L464.3,409.7L464.7,409.6L465.2,409.7L465.6,409.5L466.0,409.6L466.4,409.6L466.8,409.2L467.2,408.4L467.6,407.9L468.0,408.3L468.4,409.2L468.8,409.5L469.2,408.8L469.6,408.5L470.0,408.8L470.4,409.4L470.8,409.3L471.2,409.2L471.6,408.8L472.0,408.7L472.4,409.1L472.8,409.2L473.2,408.6L473.6,408.9L474.0,408.9L474.4,408.9L474.8,408.8L475.2,408.8L475.6,409.4L476.0,409.5L476.4,409.6L476.8,410.6L477.2,409.9L477.6,409.5L478.0,409.1L478.4,409.2L478.9,409.6L479.3,409.9L479.7,409.7L480.1,409.6L480.5,409.4L480.9,409.4L481.3,409.6L481.7,409.4L482.1,409.5L482.5,409.3L482.9,409.1L483.3,408.9L483.7,409.1L484.1,408.9L484.5,409.5L484.9,409.8L485.3,409.5L485.7,409.9L486.1,409.5L486.5,409.3L486.9,409.4L487.3,409.3L487.7,409.2L488.1,409.0L488.5,409.7L488.9,410.4L489.3,409.9L489.7,409.2L490.1,409.0L490.5,409.2L490.9,409.6L491.3,409.8L491.7,409.2L492.1,409.8L492.6,410.5L493.0,410.5L493.4,409.2L493.8,409.7L494.2,410.3L494.6,409.5L495.0,409.5L495.4,410.2L495.8,409.6L496.2,409.5L496.6,409.3L497.0,409.2L497.4,409.4L497.8,409.0L498.2,409.6L498.6,409.9L499.0,409.5L499.4,410.0L499.8,409.9L500.2,409.7L500.6,410.3L501.0,410.5L501.4,409.9L501.8,409.9L502.2,410.0L502.6,409.8L503.0,410.2L503.4,409.9L503.8,410.2L504.2,410.1L504.6,410.3L505.0,409.9L505.4,410.0L505.8,410.2L506.3,410.1L506.7,410.0L507.1,409.8L507.5,410.1L507.9,410.0L508.3,410.2L508.7,410.4L509.1,410.5L509.5,410.5L509.9,410.1L510.3,410.0L510.7,410.2L511.1,410.8L511.5,410.3L511.9,409.5L512.3,409.5L512.7,410.0L513.1,410.1L513.5,409.8L513.9,409.2L514.3,408.9L514.7,409.1L515.1,409.1L515.5,408.8L515.9,408.0L516.3,407.0L516.7,407.2L517.1,406.6L517.5,406.6L517.9,406.3L518.3,405.8L518.7,404.3L519.1,402.2L519.5,401.5L520.0,402.0L520.4,402.4L520.8,402.6L521.2,404.1L521.6,405.2L522.0,405.4L522.4,405.9L522.8,407.2L523.2,407.2L523.6,406.8L524.0,408.0L524.4,409.0L524.8,409.4L525.2,409.3L525.6,409.6L526.0,410.1L526.4,410.7L526.8,411.5L527.2,411.5L527.6,411.2L528.0,411.1L528.4,411.1L528.8,410.9L529.2,410.3L529.6,410.5L530.0,411.2L530.4,410.8L530.8,410.8L531.2,411.0L531.6,411.1L532.0,410.8L532.4,410.5L532.8,411.1L533.2,411.2L533.7,411.3L534.1,411.7L534.5,411.4L534.9,411.4L535.3,411.1L535.7,410.8L536.1,410.5L536.5,411.0L536.9,411.2L537.3,410.7L537.7,410.4L538.1,410.8L538.5,410.9L538.9,410.9L539.3,411.0L539.7,411.4L540.1,411.6L540.5,411.6L540.9,411.4L541.3,411.3L541.7,411.6L542.1,411.6L542.5,411.4L542.9,411.3L543.3,411.4L543.7,411.5L544.1,410.8L544.5,411.2L544.9,411.5L545.3,411.6L545.7,411.2L546.1,411.0L546.5,411.3L546.9,411.4L547.4,411.2L547.8,410.6L548.2,411.0L548.6,411.5L549.0,411.3L549.4,411.1L549.8,411.2L550.2,411.3L550.6,411.4L551.0,411.4L551.4,411.1L551.8,410.9L552.2,411.2L552.6,411.6L553.0,411.8L553.4,411.7L553.8,411.8L554.2,411.8L554.6,411.4L555.0,411.3L555.4,411.1L555.8,411.3L556.2,411.5L556.6,411.3L557.0,411.2L557.4,411.2L557.8,411.8L558.2,411.8L558.6,411.5L559.0,411.1L559.4,411.4L559.8,412.0L560.2,412.0L560.6,411.7L561.1,412.1L561.5,412.0L561.9,411.8L562.3,411.8L562.7,411.6L563.1,411.4L563.5,411.7L563.9,411.9L564.3,411.4L564.7,411.4L565.1,411.9L565.5,412.1L565.9,412.0L566.3,411.5L566.7,411.7L567.1,411.7L567.5,411.5L567.9,411.4L568.3,411.7L568.7,411.8L569.1,411.6L569.5,411.5L569.9,411.9L570.3,412.1L570.7,412.1L571.1,411.7L571.5,411.8L571.9,411.6L572.3,411.5L572.7,411.5L573.1,411.6L573.5,412.0L573.9,412.0L574.3,412.1L574.8,412.1L575.2,411.9L575.6,411.3L576.0,411.6L576.4,411.7L576.8,411.9L577.2,411.5L577.6,411.8L578.0,412.1L578.4,412.2L578.8,412.6L579.2,412.7L579.6,412.2L580.0,412.3L580.4,412.0L580.8,411.5L581.2,411.8L581.6,411.5L582.0,411.9L582.4,412.3L582.8,411.9L583.2,411.7L583.6,411.9L584.0,412.3L584.4,412.4L584.8,411.8L585.2,411.4L585.6,411.6L586.0,412.1L586.4,412.2L586.8,412.0L587.2,411.8L587.6,411.9L588.0,412.0L588.5,412.4L588.9,413.0L589.3,412.7L589.7,412.4L590.1,412.4L590.5,411.9L590.9,412.2L591.3,412.1L591.7,411.9L592.1,412.0L592.5,412.5L592.9,412.3L593.3,411.9L593.7,412.1L594.1,412.3L594.5,412.8L594.9,412.4L595.3,412.3L595.7,412.5L596.1,412.8L596.5,412.7L596.9,412.5L597.3,412.6L597.7,412.6L598.1,412.1L598.5,412.1L598.9,412.3L599.3,412.2L599.7,412.6L600.1,412.3L600.5,412.0L600.9,412.2L601.3,412.4L601.7,412.4L602.2,412.5L602.6,412.7L603.0,412.7L603.4,412.5L603.8,412.5L604.2,412.5L604.6,412.6L605.0,412.4L605.4,412.3L605.8,412.5L606.2,412.3L606.6,412.6L607.0,412.8L607.4,412.8L607.8,413.0L608.2,413.1L608.6,413.0L609.0,412.8L609.4,412.7L609.8,412.3L610.2,412.6L610.6,412.8L611.0,412.7L611.4,412.5L611.8,412.5L612.2,412.5L612.6,412.3L613.0,412.3L613.4,412.7L613.8,412.5L614.2,412.6L614.6,412.6L615.0,412.7L615.4,412.5L615.9,412.4L616.3,412.6L616.7,412.8L617.1,412.6L617.5,412.9L617.9,413.0L618.3,412.6L618.7,412.8L619.1,413.1L619.5,413.0L619.9,412.7L620.3,412.5L620.7,412.8L621.1,413.0L621.5,413.1L621.9,413.1L622.3,412.9L622.7,412.9L623.1,412.7L623.5,412.8L623.9,412.6L624.3,412.7L624.7,412.8L625.1,412.8L625.5,412.7L625.9,412.5L626.3,412.9L626.7,413.0L627.1,412.8L627.5,412.8L627.9,412.9L628.3,412.7L628.7,413.0L629.1,413.0L629.6,412.9L630.0,412.9L630.4,413.0L630.8,412.6L631.2,412.4L631.6,412.7L632.0,412.7L632.4,412.5L632.8,412.3L633.2,412.6L633.6,412.8L634.0,412.9L634.4,412.9L634.8,412.9L635.2,413.0L635.6,412.9L636.0,412.8L636.4,412.9L636.8,412.8L637.2,412.8L637.6,412.8L638.0,413.1L638.4,413.2L638.8,412.8L639.2,412.6L639.6,413.0L640.0,413.3L640.4,412.8L640.8,412.8L641.2,412.9L641.6,412.6L642.0,412.6L642.4,413.0L642.8,413.0L643.3,412.8L643.7,412.7L644.1,412.6L644.5,412.6L644.9,412.6L645.3,413.0L645.7,413.2L646.1,413.2L646.5,413.2L646.9,413.1L647.3,413.1L647.7,412.8L648.1,412.6L648.5,412.6L648.9,413.1L649.3,413.3L649.7,413.1L650.1,413.0L650.5,413.1L650.9,412.9L651.3,412.9L651.7,413.0L652.1,413.1L652.5,413.0L652.9,413.3L653.3,413.5L653.7,413.1L654.1,412.8L654.5,413.1L654.9,413.4L655.3,413.2L655.7,412.9L656.1,413.0L656.5,413.2L657.0,413.3L657.4,413.2L657.8,413.1L658.2,412.8L658.6,412.9L659.0,413.0L659.4,413.4L659.8,413.2L660.2,412.9L660.6,412.7L661.0,412.8L661.4,413.0L661.8,412.6L662.2,413.0L662.6,413.2L663.0,413.3L663.4,413.4L663.8,413.3L664.2,413.3L664.6,413.3L665.0,413.3L665.4,413.2L665.8,413.1L666.2,413.3L666.6,413.4L667.0,413.1L667.4,413.1L667.8,413.1L668.2,413.3L668.6,413.3L669.0,413.4L669.4,413.5L669.8,413.3L670.2,413.2L670.7,413.2L671.1,413.3L671.5,413.0L671.9,412.9L672.3,413.1L672.7,413.3L673.1,413.3L673.5,413.1L673.9,413.2L674.3,413.1L674.7,413.6L675.1,413.6L675.5,413.3L675.9,413.4L676.3,413.1L676.7,413.3L677.1,413.3L677.5,413.1L677.9,413.0L678.3,413.0L678.7,413.2L679.1,413.3L679.5,413.2L679.9,413.4L680.3,413.5L680.7,413.3L681.1,412.6L681.5,412.8L681.9,413.1L682.3,413.2L682.7,413.3L683.1,413.5L683.5,413.3L683.9,413.1L684.4,413.2L684.8,413.5L685.2,413.4L685.6,413.2L686.0,413.0L686.4,413.0L686.8,413.1L687.2,412.9L687.6,413.2L688.0,413.1L688.4,413.1L688.8,413.3L689.2,413.3L689.6,413.1L690.0,413.1L690.4,413.5L690.8,413.3L691.2,413.2L691.6,413.4L692.0,413.4L692.4,413.1L692.8,413.3L693.2,413.4L693.6,413.2L694.0,413.2L694.4,413.2L694.8,413.1L695.2,413.0L695.6,413.1L696.0,413.2L696.4,413.4L696.8,413.4L697.2,413.3L697.6,413.1L698.1,413.1L698.5,413.1L698.9,413.4L699.3,413.5L699.7,413.3L700.1,413.4L700.5,413.7L700.9,413.6L701.3,413.4L701.7,413.2L702.1,413.3L702.5,413.2L702.9,413.2L703.3,413.1L703.7,413.2L704.1,413.3L704.5,413.4L704.9,413.6L705.3,413.6L705.7,413.7L706.1,413.7L706.5,413.6L706.9,413.8L707.3,413.6L707.7,413.3L708.1,413.4L708.5,413.4L708.9,413.7L709.3,413.7L709.7,414.1L710.1,413.9L710.5,413.6L710.9,413.2L711.3,413.2L711.8,413.8L712.2,413.8L712.6,413.6L713.0,413.3L713.4,413.3L713.8,413.5L714.2,413.4L714.6,413.4L715.0,413.6L715.4,413.4L715.8,413.4L716.2,413.5L716.6,413.9L717.0,413.9L717.4,414.0L717.8,413.7L718.2,413.7L718.6,413.3L719.0,413.4L719.4,413.7L719.8,413.5L720.2,413.6L720.6,413.5L721.0,413.6L721.4,413.7L721.8,413.7L722.2,413.7L722.6,413.4L723.0,413.6L723.4,413.8L723.8,413.6L724.2,413.7L724.6,413.6L725.0,413.8L725.5,413.7L725.9,413.9L726.3,413.9L726.7,413.6L727.1,413.5L727.5,413.6L727.9,413.5L728.3,413.2L728.7,413.7L729.1,414.1L729.5,413.8L729.9,413.9L730.3,414.0L730.7,413.6L731.1,413.5L731.5,413.8L731.9,413.9L732.3,413.7L732.7,413.6L733.1,413.8L733.5,413.5L733.9,413.6L734.3,413.6L734.7,413.5L735.1,413.7L735.5,413.7L735.9,413.9L736.3,414.3L736.7,414.0L737.1,413.8L737.5,413.7L737.9,413.6L738.3,413.8L738.7,413.7L739.2,413.7L739.6,413.8L740.0,414.1L740.4,414.1L740.8,413.9L741.2,413.6L741.6,413.8L742.0,413.7L742.4,413.9L742.8,414.2L743.2,414.1L743.6,413.8L744.0,413.6L744.4,413.5L744.8,413.9L745.2,414.1L745.6,414.1L746.0,414.1L746.4,413.7L746.8,413.9L747.2,413.8L747.6,413.5L748.0,413.8L748.4,414.1L748.8,413.9L749.2,414.1L749.6,414.2L750.0,414.2L750.4,414.2L750.8,414.0L751.2,414.1L751.6,414.0L752.0,413.8L752.4,413.9L752.9,414.0L753.3,414.0L753.7,414.0L754.1,414.0L754.5,413.9L754.9,413.8L755.3,414.0L755.7,414.1L756.1,414.2L756.5,414.4L756.9,414.0L757.3,413.7L757.7,413.5L758.1,413.7L758.5,413.8L758.9,414.1L759.3,413.8L759.7,413.8"/>
<path stroke="#00ff00" d="M115.0,351.8L115.4,351.8L115.8,351.8L116.2,351.8L116.6,351.8L117.0,351.8L117.4,351.8L117.8,351.8L118.2,351.7L118.6,351.0L119.0,350.8L119.4,350.7L119.8,350.2L120.2,349.6L120.6,348.7L121.0,347.0L121.4,344.9L121.8,341.5L122.3,338.0L122.7,334.7L123.1,331.5L123.5,327.9L123.9,324.7L124.3,324.2L124.7,326.6L125.1,331.6L125.5,336.0L125.9,340.0L126.3,343.0L126.7,345.2L127.1,345.2L127.5,345.8L127.9,345.8L128.3,345.4L128.7,345.5L129.1,345.7L129.5,344.2L129.9,343.5L130.3,342.6L130.7,341.5L131.1,340.0L131.5,337.9L131.9,336.0L132.3,336.5L132.7,338.6L133.1,340.0L133.5,342.2L133.9,343.3L134.3,344.2L134.7,345.0L135.1,344.4L135.5,344.6L136.0,345.2L136.4,344.3L136.8,343.8L137.2,343.7L137.6,344.0L138.0,345.1L138.4,344.9L138.8,344.7L139.2,344.2L139.6,343.6L140.0,342.8L140.4,342.8L140.8,343.2L141.2,342.1L141.6,341.3L142.0,342.0L142.4,342.9L142.8,342.4L143.2,342.0L143.6,342.2L144.0,341.5L144.4,341.2L144.8,339.9L145.2,339.4L145.6,339.9L146.0,340.2L146.4,339.4L146.8,339.5L147.2,339.1L147.6,338.0L148.0,338.9L148.4,339.0L148.8,337.1L149.2,335.7L149.7,335.5L150.1,335.6L150.5,335.2L150.9,335.9L151.3,334.4L151.7,334.2L152.1,335.6L152.5,335.9L152.9,336.7L153.3,336.3L153.7,335.2L154.1,335.5L154.5,334.5L154.9,333.7L155.3,333.4L155.7,332.2L156.1,331.4L156.5,332.0L156.9,331.4L157.3,331.0L157.7,332.1L158.1,332.9L158.5,333.3L158.9,331.1L159.3,329.7L159.7,329.4L160.1,328.2L160.5,328.1L160.9,328.7L161.3,329.1L161.7,328.9L162.1,327.1L162.5,325.7L162.9,325.6L163.4,325.9L163.8,326.3L164.2,326.9L164.6,328.8L165.0,328.7L165.4,328.0L165.8,327.4L166.2,327.1L166.6,327.5L167.0,327.7L167.4,327.1L167.8,325.1L168.2,324.5L168.6,324.6L169.0,324.9L169.4,323.9L169.8,321.1L170.2,319.4L170.6,316.7L171.0,313.9L171.4,313.1L171.8,309.6L172.2,304.5L172.6,300.7L173.0,299.0L173.4,298.4L173.8,300.7L174.2,304.4L174.6,308.1L175.0,311.4L175.4,313.2L175.8,314.3L176.2,314.5L176.6,315.4L177.1,314.1L177.5,312.3L177.9,307.5L178.3,298.0L178.7,283.4L179.1,266.2L179.5,245.7L179.9,220.5L180.3,198.1L180.7,181.6L181.1,171.9L181.5,170.5L181.9,175.7L182.3,184.9L182.7,201.0L183.1,218.3L183.5,235.6L183.9,252.2L184.3,266.5L184.7,278.2L185.1,288.6L185.5,295.6L185.9,298.9L186.3,299.3L186.7,297.6L187.1,290.2L187.5,276.0L187.9,256.2L188.3,228.2L188.7,193.2L189.1,155.3L189.5,116.6L189.9,81.2L190.3,56.0L190.8,42.6L191.2,41.5L191.6,47.4L192.0,61.6L192.4,82.7L192.8,106.4L193.2,133.9L193.6,162.8L194.0,191.5L194.4,216.2L194.8,239.4L195.2,261.1L195.6,277.7L196.0,292.5L196.4,305.2L196.8,313.0L197.2,318.9L197.6,324.9L198.0,329.4L198.4,330.2L198.8,328.7L199.2,327.3L199.6,324.4L200.0,323.0L200.4,323.8L200.8,326.6L201.2,331.9L201.6,334.2L202.0,336.4L202.4,338.4L202.8,339.6L203.2,339.1L203.6,339.9L204.0,341.6L204.5,341.2L204.9,340.8L205.3,340.6L205.7,340.4L206.1,340.0L206.5,338.6L206.9,338.7L207.3,339.2L207.7,338.0L208.1,337.3L208.5,338.4L208.9,339.4L209.3,337.9L209.7,336.9L210.1,337.7L210.5,336.8L210.9,335.2L211.3,334.4L211.7,334.2L212.1,334.5L212.5,334.9L212.9,334.9L213.3,333.9L213.7,334.0L214.1,335.5L214.5,335.9L214.9,334.9L215.3,335.5L215.7,337.7L216.1,338.8L216.5,337.9L216.9,337.3L217.3,337.4L217.7,338.2L218.2,339.8L218.6,339.5L219.0,339.6L219.4,339.3L219.8,337.8L220.2,338.8L220.6,339.5L221.0,339.6L221.4,339.0L221.8,338.8L222.2,339.7L222.6,340.0L223.0,340.4L223.4,340.7L223.8,340.2L224.2,339.8L224.6,340.0L225.0,340.5L225.4,341.2L225.8,340.1L226.2,339.4L226.6,338.9L227.0,340.2L227.4,341.3L227.8,341.6L228.2,340.7L228.6,339.9L229.0,339.9L229.4,340.9L229.8,340.2L230.2,339.1L230.6,339.4L231.0,339.9L231.4,340.3L231.9,341.0L232.3,341.0L232.7,339.9L233.1,338.5L233.5,338.4L233.9,339.1L234.3,338.9L234.7,338.7L235.1,338.6L235.5,339.5L235.9,339.1L236.3,338.9L236.7,339.9L237.1,339.5L237.5,339.0L237.9,338.7L238.3,338.6L238.7,338.4L239.1,338.0L239.5,337.8L239.9,338.0L240.3,337.6L240.7,338.9L241.1,339.2L241.5,339.0L241.9,339.8L242.3,340.5L242.7,340.0L243.1,338.6L243.5,339.4L243.9,339.5L244.3,337.8L244.7,338.1L245.1,338.8L245.6,339.4L246.0,339.0L246.4,339.0L246.8,338.7L247.2,338.8L247.6,338.9L248.0,338.9L248.4,339.5L248.8,339.6L249.2,339.5L249.6,338.7L250.0,338.2L250.4,338.7L250.8,339.8L251.2,338.4L251.6,338.9L252.0,339.3L252.4,339.2L252.8,338.9L253.2,338.3L253.6,338.7L254.0,338.6L254.4,337.9L254.8,337.9L255.2,339.1L255.6,339.4L256.0,338.9L256.4,336.7L256.8,332.2L257.2,328.0L257.6,322.9L258.0,316.7L258.4,310.0L258.8,303.2L259.3,298.6L259.7,297.2L260.1,296.1L260.5,298.5L260.9,303.8L261.3,308.6L261.7,314.3L262.1,319.6L262.5,322.8L262.9,326.2L263.3,327.8L263.7,329.6L264.1,330.4L264.5,330.6L264.9,332.1L265.3,333.6L265.7,333.9L266.1,334.0L266.5,334.9L266.9,336.4L267.3,336.3L267.7,337.4L268.1,338.0L268.5,337.3L268.9,337.5L269.3,337.9L269.7,338.8L270.1,339.7L270.5,338.4L270.9,337.6L271.3,337.3L271.7,336.0L272.1,335.7L272.5,334.2L273.0,333.9L273.4,334.7L273.8,334.4L274.2,333.3L274.6,332.2L275.0,331.6L275.4,332.4L275.8,332.4L276.2,330.8L276.6,332.0L277.0,332.5L277.4,332.4L277.8,334.6L278.2,337.0L278.6,336.4L279.0,336.8L279.4,337.1L279.8,338.8L280.2,338.3L280.6,337.6L281.0,337.5L281.4,337.9L281.8,338.4L282.2,339.2L282.6,339.7L283.0,340.0L283.4,338.8L283.8,338.2L284.2,339.1L284.6,340.5L285.0,341.0L285.4,340.1L285.8,338.8L286.2,339.6L286.7,340.5L287.1,340.1L287.5,339.5L287.9,340.3L288.3,340.5L288.7,340.6L289.1,340.3L289.5,339.1L289.9,340.1L290.3,339.8L290.7,339.2L291.1,340.0L291.5,340.4L291.9,340.3L292.3,340.2L292.7,340.4L293.1,340.6L293.5,340.6L293.9,339.9L294.3,339.2L294.7,340.0L295.1,339.9L295.5,340.5L295.9,341.3L296.3,341.3L296.7,340.7L297.1,341.1L297.5,340.5L297.9,340.2L298.3,339.7L298.7,340.6L299.1,339.8L299.5,339.3L299.9,339.9L300.4,340.7L300.8,340.5L301.2,340.5L301.6,340.5L302.0,340.1L302.4,340.5L302.8,340.3L303.2,340.0L303.6,340.6L304.0,341.0L304.4,340.8L304.8,341.5L305.2,342.5L305.6,341.7L306.0,341.3L306.4,342.0L306.8,342.2L307.2,341.1L307.6,341.1L308.0,340.5L308.4,340.2L308.8,339.7L309.2,340.0L309.6,340.0L310.0,340.0L310.4,340.7L310.8,340.1L311.2,340.4L311.6,342.1L312.0,342.1L312.4,340.8L312.8,340.0L313.2,341.2L313.6,342.3L314.1,342.3L314.5,341.2L314.9,341.1L315.3,341.5L315.7,341.2L316.1,341.1L316.5,340.9L316.9,342.0L317.3,341.6L317.7,340.8L318.1,341.6L318.5,342.0L318.9,341.3L319.3,340.2L319.7,340.5L320.1,340.6L320.5,341.7L320.9,341.6L321.3,341.0L321.7,341.3L322.1,342.2L322.5,342.9L322.9,341.5L323.3,340.9L323.7,341.5L324.1,342.9L324.5,343.0L324.9,342.5L325.3,342.2L325.7,341.5L326.1,342.3L326.5,342.4L326.9,342.9L327.3,342.9L327.8,341.6L328.2,341.7L328.6,342.3L329.0,342.5L329.4,343.0L329.8,341.7L330.2,342.7L330.6,343.6L331.0,343.0L331.4,342.2L331.8,341.9L332.2,341.6L332.6,341.6L333.0,341.8L333.4,342.0L333.8,343.0L334.2,342.3L334.6,341.9L335.0,342.1L335.4,342.5L335.8,342.9L336.2,343.2L336.6,343.7L337.0,342.9L337.4,341.7L337.8,341.5L338.2,342.7L338.6,343.1L339.0,343.0L339.4,342.8L339.8,342.6L340.2,342.1L340.6,342.2L341.0,343.8L341.5,343.9L341.9,343.3L342.3,342.9L342.7,342.3L343.1,341.9L343.5,343.0L343.9,342.7L344.3,342.9L344.7,342.9L345.1,342.6L345.5,342.4L345.9,343.0L346.3,343.6L346.7,342.9L347.1,343.0L347.5,343.9L347.9,343.2L348.3,343.2L348.7,343.3L349.1,342.9L349.5,342.6L349.9,343.9L350.3,343.9L350.7,344.4L351.1,343.6L351.5,343.2L351.9,344.1L352.3,343.1L352.7,343.0L353.1,343.5L353.5,343.7L353.9,343.6L354.3,343.5L354.7,343.4L355.2,342.9L355.6,343.2L356.0,343.8L356.4,342.9L356.8,342.2L357.2,342.4L357.6,343.6L358.0,344.7L358.4,344.4L358.8,344.0L359.2,344.2L359.6,344.6L360.0,343.6L360.4,343.5L360.8,344.6L361.2,344.8L361.6,344.6L362.0,343.9L362.4,343.7L362.8,344.6L363.2,343.4L363.6,343.5L364.0,344.3L364.4,343.3L364.8,343.1L365.2,343.6L365.6,344.1L366.0,344.5L366.4,344.3L366.8,344.6L367.2,344.2L367.6,343.8L368.0,344.5L368.4,344.7L368.9,344.0L369.3,343.6L369.7,343.8L370.1,344.2L370.5,343.5L370.9,343.5L371.3,344.3L371.7,344.6L372.1,345.4L372.5,345.2L372.9,345.2L373.3,344.9L373.7,345.4L374.1,345.9L374.5,345.0L374.9,345.0L375.3,344.1L375.7,343.8L376.1,344.3L376.5,344.8L376.9,345.0L377.3,345.6L377.7,345.0L378.1,344.4L378.5,344.7L378.9,345.2L379.3,344.4L379.7,344.7L380.1,345.4L380.5,345.2L380.9,345.6L381.3,345.5L381.7,344.9L382.1,343.8L382.6,343.9L383.0,345.5L383.4,345.5L383.8,345.2L384.2,344.9L384.6,345.1L385.0,345.5L385.4,345.3L385.8,345.7L386.2,345.7L386.6,345.1L387.0,345.2L387.4,345.5L387.8,345.2L388.2,345.6L388.6,345.8L389.0,345.5L389.4,345.2L389.8,345.4L390.2,344.9L390.6,345.3L391.0,345.2L391.4,345.0L391.8,345.4L392.2,345.8L392.6,345.5L393.0,344.9L393.4,344.6L393.8,345.1L394.2,345.8L394.6,346.2L395.0,346.1L395.4,345.8L395.8,345.5L396.3,345.7L396.7,345.9L397.1,345.5L397.5,345.8L397.9,345.8L398.3,345.8L398.7,345.2L399.1,345.3L399.5,345.3L399.9,345.0L400.3,345.3L400.7,346.1L401.1,346.0L401.5,346.3L401.9,346.2L402.3,346.3L402.7,346.7L403.1,346.6L403.5,345.9L403.9,345.6L404.3,345.6L404.7,345.9L405.1,346.1L405.5,346.1L405.9,346.2L406.3,346.3L406.7,346.1L407.1,346.5L407.5,346.8L407.9,346.8L408.3,346.2L408.7,346.3L409.1,346.2L409.5,346.1L410.0,346.4L410.4,346.0L410.8,346.0L411.2,346.3L411.6,346.8L412.0,345.8L412.4,345.6L412.8,345.5L413.2,345.4L413.6,346.0L414.0,345.4L414.4,345.8L414.8,345.5L415.2,345.6L415.6,346.4L416.0,346.2L416.4,346.3L416.8,346.3L417.2,346.5L417.6,345.6L418.0,345.8L418.4,346.4L418.8,346.4L419.2,345.8L419.6,346.1L420.0,346.1L420.4,346.6L420.8,346.5L421.2,347.0L421.6,346.6L422.0,346.8L422.4,346.8L422.8,346.0L423.2,346.0L423.7,346.6L424.1,346.6L424.5,346.3L424.9,347.0L425.3,346.9L425.7,346.8L426.1,346.6L426.5,346.5L426.9,346.7L427.3,347.0L427.7,346.5L428.1,346.3L428.5,346.4L428.9,345.9L429.3,346.5L429.7,346.3L430.1,345.7L430.5,346.4L430.9,346.9L431.3,347.3L431.7,346.9L432.1,346.8L432.5,346.7L432.9,346.9L433.3,346.2L433.7,346.1L434.1,346.3L434.5,347.0L434.9,347.5L435.3,346.8L435.7,346.8L436.1,346.7L436.5,346.1L436.9,346.4L437.4,346.6L437.8,346.5L438.2,346.5L438.6,346.5L439.0,346.4L439.4,346.7L439.8,347.1L440.2,347.2L440.6,346.8L441.0,346.5L441.4,346.6L441.8,347.3L442.2,347.8L442.6,347.5L443.0,346.4L443.4,346.4L443.8,346.8L444.2,346.7L444.6,345.9L445.0,346.1L445.4,346.5L445.8,346.7L446.2,346.4L446.6,346.7L447.0,346.7L447.4,345.7L447.8,345.4L448.2,345.2L448.6,345.3L449.0,344.3L449.4,343.0L449.8,341.1L450.2,339.4L450.6,337.7L451.0,335.6L451.5,332.8L451.9,331.9L452.3,329.6L452.7,328.0L453.1,326.9L453.5,327.4L453.9,327.1L454.3,328.6L454.7,329.8L455.1,330.9L455.5,332.0L455.9,336.1L456.3,338.8L456.7,341.1L457.1,342.3L457.5,343.0L457.9,344.2L458.3,345.4L458.7,346.0L459.1,346.2L459.5,346.1L459.9,345.8L460.3,346.4L460.7,346.9L461.1,347.0L461.5,346.6L461.9,346.4L462.3,346.9L462.7,346.6L463.1,347.0L463.5,347.6L463.9,346.4L464.3,346.6L464.7,347.8L465.2,348.1L465.6,347.3L466.0,347.2L466.4,347.0L466.8,347.0L467.2,346.7L467.6,347.1L468.0,346.9L468.4,346.8L468.8,347.0L469.2,346.8L469.6,346.9L470.0,347.1L470.4,347.5L470.8,348.3L471.2,347.6L471.6,346.6L472.0,347.2L472.4,347.6L472.8,347.4L473.2,347.0L473.6,346.5L474.0,347.4L474.4,347.5L474.8,347.3L475.2,348.1L475.6,348.3L476.0,348.1L476.4,347.5L476.8,346.7L477.2,346.5L477.6,346.6L478.0,346.6L478.4,347.6L478.9,347.2L479.3,347.3L479.7,347.2L480.1,347.5L480.5,347.7L480.9,346.8L481.3,346.5L481.7,347.1L482.1,347.3L482.5,346.9L482.9,348.0L483.3,347.7L483.7,347.8L484.1,347.6L484.5,347.1L484.9,347.3L485.3,347.0L485.7,346.9L486.1,346.6L486.5,346.7L486.9,346.9L487.3,347.3L487.7,347.5L488.1,347.7L488.5,347.2L488.9,347.1L489.3,347.5L489.7,347.5L490.1,347.7L490.5,347.7L490.9,347.9L491.3,347.4L491.7,347.0L492.1,347.4L492.6,348.0L493.0,347.5L493.4,347.4L493.8,346.9L494.2,347.0L494.6,347.2L495.0,347.5L495.4,347.6L495.8,347.8L496.2,347.5L496.6,347.4L497.0,348.1L497.4,347.8L497.8,347.5L498.2,347.9L498.6,347.7L499.0,347.4L499.4,347.3L499.8,347.2L500.2,347.1L500.6,347.1L501.0,347.5L501.4,347.4L501.8,347.6L502.2,348.1L502.6,347.9L503.0,347.4L503.4,347.3L503.8,347.4L504.2,347.6L504.6,347.6L505.0,347.6L505.4,348.6L505.8,348.6L506.3,347.9L506.7,347.5L507.1,347.4L507.5,347.4L507.9,347.7L508.3,348.1L508.7,347.7L509.1,347.8L509.5,348.4L509.9,348.6L510.3,348.1L510.7,347.6L511.1,347.6L511.5,347.5L511.9,347.9L512.3,348.2L512.7,348.1L513.1,347.8L513.5,347.4L513.9,347.2L514.3,347.5L514.7,347.8L515.1,347.3L515.5,346.5L515.9,345.9L516.3,345.4L516.7,345.0L517.1,344.4L517.5,343.7L517.9,342.8L518.3,341.4L518.7,339.9L519.1,340.1L519.5,340.4L520.0,341.0L520.4,340.0L520.8,339.8L521.2,339.6L521.6,340.1L522.0,340.9L522.4,342.6L522.8,342.9L523.2,343.5L523.6,344.7L524.0,345.3L524.4,346.6L524.8,346.9L525.2,347.2L525.6,347.5L526.0,348.4L526.4,347.8L526.8,347.6L527.2,348.4L527.6,348.3L528.0,348.6L528.4,348.2L528.8,348.2L529.2,348.7L529.6,348.2L530.0,348.5L530.4,348.6L530.8,348.3L531.2,348.3L531.6,348.5L532.0,348.4L532.4,348.5L532.8,349.0L533.2,348.7L533.7,348.6L534.1,348.6L534.5,348.6L534.9,349.0L535.3,349.3L535.7,348.7L536.1,348.6L536.5,348.8L536.9,348.7L537.3,348.1L537.7,348.7L538.1,349.1L538.5,348.8L538.9,348.8L539.3,349.2L539.7,349.0L540.1,349.5L540.5,349.2L540.9,348.6L541.3,348.4L541.7,348.6L542.1,348.7L542.5,349.1L542.9,348.9L543.3,348.9L543.7,349.4L544.1,349.0L544.5,348.6L544.9,348.5L545.3,348.5L545.7,348.5L546.1,348.7L546.5,349.3L546.9,349.5L547.4,349.5L547.8,349.4L548.2,348.8L548.6,348.3L549.0,348.5L549.4,348.8L549.8,348.8L550.2,348.9L550.6,348.9L551.0,348.8L551.4,349.4L551.8,349.4L552.2,348.8L552.6,348.2L553.0,348.6L553.4,348.7L553.8,348.7L554.2,349.4L554.6,350.0L555.0,349.9L555.4,349.5L555.8,348.9L556.2,349.2L556.6,349.4L557.0,349.4L557.4,349.4L557.8,349.4L558.2,349.2L558.6,349.0L559.0,349.3L559.4,349.7L559.8,349.3L560.2,349.2L560.6,349.5L561.1,349.5L561.5,349.4L561.9,348.7L562.3,348.9L562.7,349.4L563.1,349.6L563.5,349.3L563.9,349.2L564.3,349.4L564.7,349.4L565.1,349.0L565.5,349.3L565.9,349.2L566.3,349.2L566.7,349.7L567.1,349.5L567.5,349.2L567.9,349.6L568.3,349.9L568.7,349.3L569.1,348.9L569.5,349.2L569.9,349.5L570.3,349.8L570.7,349.7L571.1,349.6L571.5,350.0L571.9,350.0L572.3,349.7L572.7,349.6L573.1,349.6L573.5,349.6L573.9,349.3L574.3,349.6L574.8,349.8L575.2,350.0L575.6,350.0L576.0,349.6L576.4,349.0L576.8,349.3L577.2,349.9L577.6,349.4L578.0,349.7L578.4,350.1L578.8,349.9L579.2,350.1L579.6,350.1L580.0,350.1L580.4,350.1L580.8,350.3L581.2,349.6L581.6,349.3L582.0,349.7L582.4,349.8L582.8,349.8L583.2,349.9L583.6,349.9L584.0,349.6L584.4,349.6L584.8,349.9L585.2,349.7L585.6,349.8L586.0,350.1L586.4,350.2L586.8,350.5L587.2,350.4L587.6,349.9L588.0,349.7L588.5,349.6L588.9,349.6L589.3,350.1L589.7,350.2L590.1,350.4L590.5,350.2L590.9,350.2L591.3,350.0L591.7,350.1L592.1,350.1L592.5,350.2L592.9,350.0L593.3,349.7L593.7,349.8L594.1,350.2L594.5,350.7L594.9,350.7L595.3,350.3L595.7,350.0L596.1,350.0L596.5,350.1L596.9,350.5L597.3,350.6L597.7,350.1L598.1,349.9L598.5,350.0L598.9,350.5L599.3,350.2L599.7,350.1L600.1,350.5L600.5,350.6L600.9,350.6L601.3,350.5L601.7,350.4L602.2,350.3L602.6,350.0L603.0,350.1L603.4,350.4L603.8,350.3L604.2,350.6L604.6,350.8L605.0,350.5L605.4,350.3L605.8,350.1L606.2,350.2L606.6,350.0L607.0,350.2L607.4,350.5L607.8,350.1L608.2,350.3L608.6,350.5L609.0,350.7L609.4,350.4L609.8,349.8L610.2,350.4L610.6,351.0L611.0,350.2L611.4,350.3L611.8,350.5L612.2,350.3L612.6,350.3L613.0,350.4L613.4,350.1L613.8,350.1L614.2,350.1L614.6,350.3L615.0,350.4L615.4,350.5L615.9,350.7L616.3,350.7L616.7,350.3L617.1,350.4L617.5,350.4L617.9,350.5L618.3,350.5L618.7,350.3L619.1,350.6L619.5,350.8L619.9,350.5L620.3,350.2L620.7,350.3L621.1,350.8L621.5,350.9L621.9,350.8L622.3,350.8L622.7,350.6L623.1,350.4L623.5,350.7L623.9,351.1L624.3,351.2L624.7,351.1L625.1,350.8L625.5,350.7L625.9,350.9L626.3,350.6L626.7,350.3L627.1,350.2L627.5,350.7L627.9,350.7L628.3,350.5L628.7,350.5L629.1,350.4L629.6,350.5L630.0,350.5L630.4,350.7L630.8,350.8L631.2,350.9L631.6,350.5L632.0,350.8L632.4,350.8L632.8,350.7L633.2,351.0L633.6,351.1L634.0,350.9L634.4,351.0L634.8,350.4L635.2,350.0L635.6,350.4L636.0,351.1L636.4,350.8L636.8,350.7L637.2,350.7L637.6,350.6L638.0,350.7L638.4,350.7L638.8,350.9L639.2,350.9L639.6,350.6L640.0,350.5L640.4,350.7L640.8,350.5L641.2,350.7L641.6,351.0L642.0,351.0L642.4,350.9L642.8,350.6L643.3,350.5L643.7,350.6L644.1,350.5L644.5,350.8L644.9,350.7L645.3,350.8L645.7,351.1L646.1,350.9L646.5,350.7L646.9,350.5L647.3,350.7L647.7,350.5L648.1,350.7L648.5,350.9L648.9,350.6L649.3,350.5L649.7,350.7L650.1,350.6L650.5,350.4L650.9,350.6L651.3,350.5L651.7,350.6L652.1,350.8L652.5,350.9L652.9,350.7L653.3,350.8L653.7,351.0L654.1,350.7L654.5,350.6L654.9,350.8L655.3,351.1L655.7,350.8L656.1,350.7L656.5,350.7L657.0,350.8L657.4,350.9L657.8,350.9L658.2,350.7L658.6,350.5L659.0,350.9L659.4,351.2L659.8,350.9L660.2,350.9L660.6,351.3L661.0,351.3L661.4,351.1L661.8,351.0L662.2,350.9L662.6,350.7L663.0,350.8L663.4,351.0L663.8,350.9L664.2,350.8L664.6,350.9L665.0,351.3L665.4,351.0L665.8,350.7L666.2,350.6L666.6,350.8L667.0,351.0L667.4,351.1L667.8,350.8L668.2,350.7L668.6,351.0L669.0,350.9L669.4,350.9L669.8,350.7L670.2,350.8L670.7,350.8L671.1,350.9L671.5,350.9L671.9,350.8L672.3,350.6L672.7,350.8L673.1,351.0L673.5,350.6L673.9,350.4L674.3,350.6L674.7,350.9L675.1,350.9L675.5,350.7L675.9,350.5L676.3,350.2L676.7,350.4L677.1,350.9L677.5,350.8L677.9,350.6L678.3,350.7L678.7,351.0L679.1,351.0L679.5,350.8L679.9,350.8L680.3,350.9L680.7,351.2L681.1,351.3L681.5,350.9L681.9,351.1L682.3,351.2L682.7,351.2L683.1,350.9L683.5,351.0L683.9,350.9L684.4,350.5L684.8,350.6L685.2,351.0L685.6,351.3L686.0,350.9L686.4,350.7L686.8,350.7L687.2,351.0L687.6,351.3L688.0,351.2L688.4,350.8L688.8,350.8L689.2,350.7L689.6,350.5L690.0,350.7L690.4,350.9L690.8,351.1L691.2,351.4L691.6,351.2L692.0,351.0L692.4,351.3L692.8,351.1L693.2,350.9L693.6,351.1L694.0,351.1L694.4,351.1L694.8,350.9L695.2,351.2L695.6,351.6L696.0,351.2L696.4,351.1L696.8,350.8L697.2,350.9L697.6,351.1L698.1,350.9L698.5,351.2L698.9,351.4L699.3,351.0L699.7,350.9L700.1,351.1L700.5,350.9L700.9,350.8L701.3,351.4L701.7,351.8L702.1,351.3L702.5,351.2L702.9,351.0L703.3,351.2L703.7,351.4L704.1,351.5L704.5,351.6L704.9,351.5L705.3,351.4L705.7,351.1L706.1,351.1L706.5,351.3L706.9,351.1L707.3,351.3L707.7,351.3L708.1,351.1L708.5,351.2L708.9,351.3L709.3,351.1L709.7,351.0L710.1,351.5L710.5,351.6L710.9,351.7L711.3,351.3L711.8,350.8L712.2,351.1L712.6,351.3L713.0,351.4L713.4,351.5L713.8,351.4L714.2,351.4L714.6,351.5L715.0,351.2L715.4,351.3L715.8,351.4L716.2,351.5L716.6,351.3L717.0,351.3L717.4,351.2L717.8,351.1L718.2,351.3L718.6,351.3L719.0,351.3L719.4,351.3L719.8,351.5L720.2,351.6L720.6,351.5L721.0,351.5L721.4,351.5L721.8,351.2L722.2,351.4L722.6,351.5L723.0,351.7L723.4,351.7L723.8,351.4L724.2,351.2L724.6,351.4L725.0,351.6L725.5,351.9L725.9,351.7L726.3,351.5L726.7,351.3L727.1,351.4L727.5,351.7L727.9,351.4L728.3,351.2L728.7,351.4L729.1,351.6L729.5,351.4L729.9,351.8L730.3,351.6L730.7,351.5L731.1,351.4L731.5,351.5L731.9,351.5L732.3,351.4L732.7,351.8L733.1,351.8L733.5,351.6L733.9,351.4L734.3,351.5L734.7,351.7L735.1,351.3L735.5,351.4L735.9,351.2L736.3,351.1L736.7,351.5L737.1,351.6L737.5,351.9L737.9,351.7L738.3,351.4L738.7,351.5L739.2,351.4L739.6,351.5L740.0,351.4L740.4,351.3L740.8,351.1L741.2,351.4L741.6,351.5L742.0,351.5L742.4,351.8L742.8,352.0L743.2,352.1L743.6,351.6L744.0,351.6L744.4,351.6L744.8,351.5L745.2,351.5L745.6,351.6L746.0,351.5L746.4,351.4L746.8,351.4L747.2,351.3L747.6,351.4L748.0,351.5L748.4,351.7L748.8,351.8L749.2,351.7L749.6,351.7L750.0,351.8L750.4,351.7L750.8,351.7L751.2,351.8L751.6,351.7L752.0,351.6L752.4,351.6L752.9,351.5L753.3,351.7L753.7,351.4L754.1,351.5L754.5,351.4L754.9,351.4L755.3,351.3L755.7,351.6L756.1,351.8L756.5,352.0L756.9,351.8L757.3,351.6L757.7,351.6L758.1,351.6L758.5,351.7L758.9,351.7L759.3,351.6L759.7,351.6"/>
</g>
<g font-size="16.6" fill="#000">
<text x="180.7" y="29.9" xml:space="preserve">Pb</text>
<text x="183.5" y="130.6" xml:space="preserve">Pb</text>
<text x="172.7" y="160.8" xml:space="preserve">Ti</text>
<text x="186.2" y="199.5" xml:space="preserve">Pb</text>
<text x="173.6" y="269.6" xml:space="preserve">Ti</text>
<text x="184.0" y="269.6" xml:space="preserve">Pb</text>
<text x="184.9" y="343.8" xml:space="preserve">Pb</text>
<text x="116.9" y="322.3" xml:space="preserve">C O</text>
<text x="116.0" y="388.6" xml:space="preserve">C O</text>
<text x="115.2" y="452.5" xml:space="preserve">C O</text>
<text x="115.2" y="505.9" xml:space="preserve">C O</text>
<text x="115.0" y="568.6" xml:space="preserve">C O</text>
<text x="128.6" y="471.6" xml:space="preserve">Ti</text>
<text x="137.4" y="545.6" xml:space="preserve">Ti</text>
<text x="162.7" y="297.1" xml:space="preserve">Zr</text>
<text x="165.2" y="356.8" xml:space="preserve">Zr</text>
<text x="164.2" y="414.6" xml:space="preserve">Zr</text>
<text x="161.5" y="478.9" xml:space="preserve">Zr</text>
<text x="164.6" y="535.8" xml:space="preserve">Zr</text>
<text x="257.7" y="292.8" xml:space="preserve">Ti</text>
<text x="261.3" y="354.8" xml:space="preserve">Ti</text>
<text x="255.4" y="416.8" xml:space="preserve">Ti</text>
<text x="251.8" y="479.1" xml:space="preserve">Ti</text>
<text x="259.4" y="544.2" xml:space="preserve">Ti</text>
<text x="272.4" y="326.9" xml:space="preserve">La <tspan dx="-0.6">/Pr</tspan></text>
<text x="274.0" y="388.2" xml:space="preserve">La <tspan dx="1.4">/Pr</tspan></text>
<text x="267.9" y="448.9" xml:space="preserve">La <tspan dx="1.6">/Pr</tspan></text>
<text x="264.7" y="512.5" xml:space="preserve">La <tspan dx="1.6">/Pr</tspan></text>
<text x="272.6" y="573.8" xml:space="preserve">La</text>
<text x="441.2" y="319.7" xml:space="preserve">Pb</text>
<text x="443.5" y="376.5" xml:space="preserve">Pb</text>
<text x="443.5" y="446.6" xml:space="preserve">Pb</text>
<text x="442.1" y="509.8" xml:space="preserve">Pb</text>
<text x="441.2" y="569.2" xml:space="preserve">Pb</text>
<text x="508.8" y="327.1" xml:space="preserve">Pb</text>
<text x="511.6" y="393.1" xml:space="preserve">Pb</text>
<text x="510.0" y="455.8" xml:space="preserve">Pb</text>
<text x="509.7" y="520.5" xml:space="preserve">Pb</text>
<text x="507.7" y="578.0" xml:space="preserve">Pb</text>
</g>
<g stroke="#000" stroke-width="2.2" fill="none">
<rect x="115.1" y="9.8" width="644.6" height="606.2"/>
<line x1="115.0" y1="616" x2="115.0" y2="628"/>
<line x1="276.2" y1="616" x2="276.2" y2="628"/>
<line x1="437.4" y1="616" x2="437.4" y2="628"/>
<line x1="598.5" y1="616" x2="598.5" y2="628"/>
<line x1="759.7" y1="616" x2="759.7" y2="628"/>
<line x1="195.6" y1="616" x2="195.6" y2="622"/>
<line x1="356.8" y1="616" x2="356.8" y2="622"/>
<line x1="517.9" y1="616" x2="517.9" y2="622"/>
<line x1="679.1" y1="616" x2="679.1" y2="622"/>
<line x1="103" y1="600.6" x2="115.1" y2="600.6"/>
<line x1="109" y1="569.5" x2="115.1" y2="569.5"/>
<line x1="103" y1="538.4" x2="115.1" y2="538.4"/>
<line x1="109" y1="507.3" x2="115.1" y2="507.3"/>
<line x1="103" y1="476.2" x2="115.1" y2="476.2"/>
<line x1="109" y1="445.1" x2="115.1" y2="445.1"/>
<line x1="103" y1="414.0" x2="115.1" y2="414.0"/>
<line x1="109" y1="382.9" x2="115.1" y2="382.9"/>
<line x1="103" y1="351.8" x2="115.1" y2="351.8"/>
<line x1="109" y1="320.7" x2="115.1" y2="320.7"/>
<line x1="103" y1="289.6" x2="115.1" y2="289.6"/>
<line x1="109" y1="258.5" x2="115.1" y2="258.5"/>
<line x1="103" y1="227.4" x2="115.1" y2="227.4"/>
<line x1="109" y1="196.3" x2="115.1" y2="196.3"/>
<line x1="103" y1="165.2" x2="115.1" y2="165.2"/>
<line x1="109" y1="134.1" x2="115.1" y2="134.1"/>
<line x1="103" y1="103.0" x2="115.1" y2="103.0"/>
<line x1="109" y1="71.9" x2="115.1" y2="71.9"/>
<line x1="103" y1="40.8" x2="115.1" y2="40.8"/>
<line x1="109" y1="9.7" x2="115.1" y2="9.7"/>
</g>
<g font-size="26.7" fill="#000">
<text x="95.2" y="608.4" text-anchor="end">0</text>
<text x="95.2" y="546.1" text-anchor="end">20</text>
<text x="95.2" y="484.0" text-anchor="end">40</text>
<text x="95.2" y="421.8" text-anchor="end">60</text>
<text x="95.2" y="359.6" text-anchor="end">80</text>
<text x="95.2" y="297.3" text-anchor="end">100</text>
<text x="95.2" y="235.1" text-anchor="end">120</text>
<text x="95.2" y="172.9" text-anchor="end">140</text>
<text x="95.2" y="110.8" text-anchor="end">160</text>
<text x="95.2" y="48.5" text-anchor="end">180</text>
<text x="114.8" y="656.1" text-anchor="middle">0</text>
<text x="276.0" y="656.1" text-anchor="middle">5</text>
<text x="437.2" y="656.1" text-anchor="middle">10</text>
<text x="598.3" y="656.1" text-anchor="middle">15</text>
<text x="759.5" y="656.1" text-anchor="middle">20</text>
</g>
<text x="466" y="697.5" text-anchor="middle" font-size="31.8">Energy [keV]</text>
<text transform="translate(34.4,320.2) rotate(-90)" text-anchor="middle" font-size="31.8">Counts [a.u]</text>
<rect x="444.5" y="20.5" width="305.5" height="217.5" fill="#fff" stroke="#808080" stroke-width="1"/>
<line x1="449" y1="45.2" x2="519" y2="45.2" stroke="#000000" stroke-width="3.5" stroke-linecap="round"/>
<text transform="translate(527.2,56.0) scale(1.015,1)" font-size="23" word-spacing="1.6">9/65/35 PLZT:Pr<tspan font-size="14.4" dy="-12.6" dx="0.2">3+</tspan><tspan dy="12.6" dx="0.2">0</tspan></text>
<line x1="449" y1="88.1" x2="519" y2="88.1" stroke="#ff0000" stroke-width="3.5" stroke-linecap="round"/>
<text transform="translate(527.2,98.9) scale(1.015,1)" font-size="23" word-spacing="1.6">9/65/35 PLZT:Pr<tspan font-size="14.4" dy="-12.6" dx="0.2">3+</tspan><tspan dy="12.6" dx="0.2">0.1</tspan></text>
<line x1="449" y1="131.0" x2="519" y2="131.0" stroke="#ff00ff" stroke-width="3.5" stroke-linecap="round"/>
<text transform="translate(527.2,141.8) scale(1.015,1)" font-size="23" word-spacing="1.6">9/65/35 PLZT:Pr<tspan font-size="14.4" dy="-12.6" dx="0.2">3+</tspan><tspan dy="12.6" dx="0.2">0.3</tspan></text>
<line x1="449" y1="173.9" x2="519" y2="173.9" stroke="#0000ff" stroke-width="3.5" stroke-linecap="round"/>
<text transform="translate(527.2,184.7) scale(1.015,1)" font-size="23" word-spacing="1.6">9/65/35 PLZT:Pr<tspan font-size="14.4" dy="-12.6" dx="0.2">3+</tspan><tspan dy="12.6" dx="0.2">0.5</tspan></text>
<line x1="449" y1="216.8" x2="519" y2="216.8" stroke="#00ff00" stroke-width="3.5" stroke-linecap="round"/>
<text transform="translate(527.2,227.6) scale(1.015,1)" font-size="23" word-spacing="1.6">9/65/35 PLZT:Pr<tspan font-size="14.4" dy="-12.6" dx="0.2">3+</tspan><tspan dy="12.6" dx="0.2">1</tspan></text>
</svg>
</body></html>
